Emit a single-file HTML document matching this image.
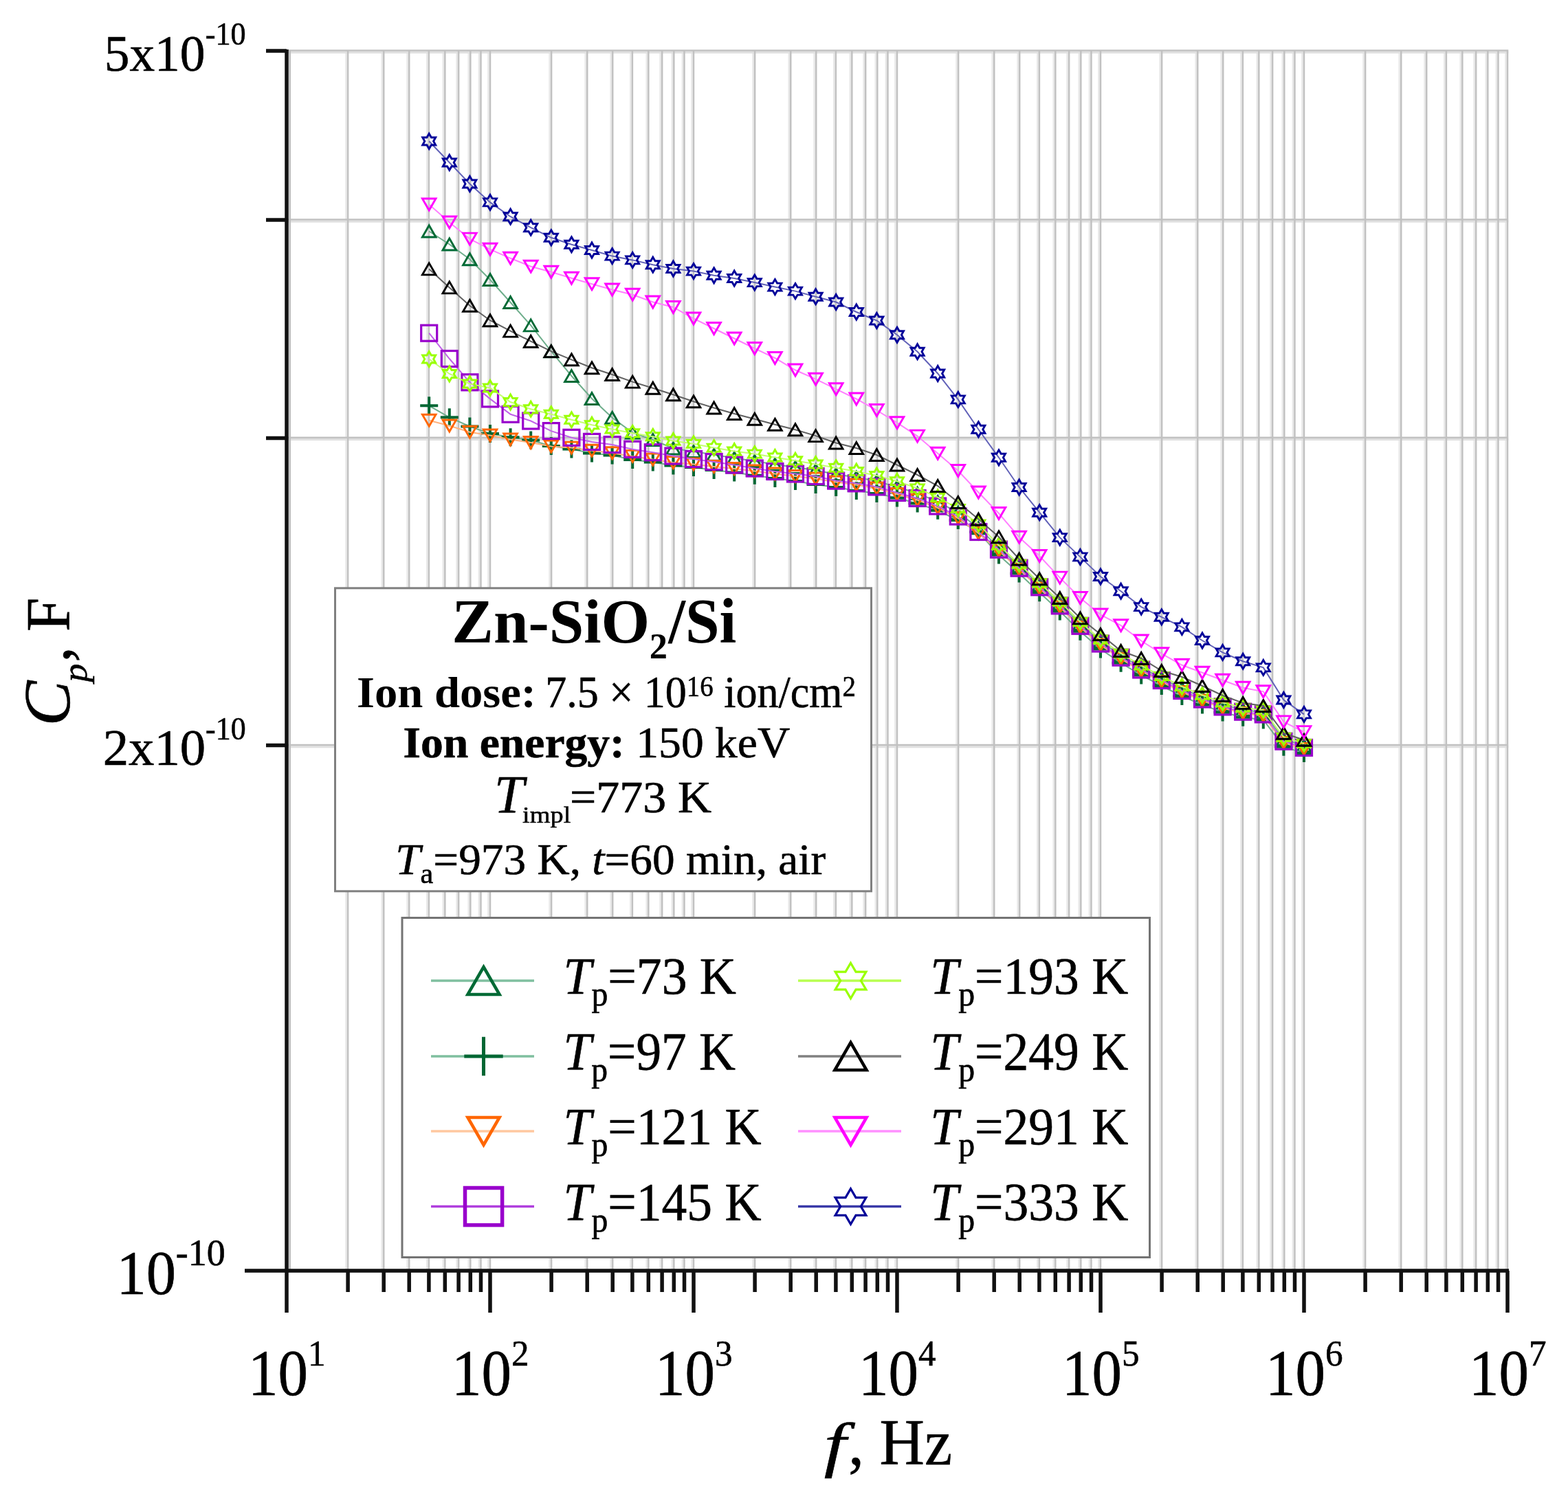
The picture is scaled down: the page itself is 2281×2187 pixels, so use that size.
<!DOCTYPE html>
<html><head><meta charset="utf-8"><title>Cp vs f</title>
<style>html,body{margin:0;padding:0;background:#fff;}svg{display:block;}</style>
</head><body>
<svg width="2281" height="2187" viewBox="0 0 2281 2187">
<rect x="0" y="0" width="2281" height="2187" fill="#fff"/>
<path d="M503.60 73.0V1849.0 M555.73 73.0V1849.0 M592.71 73.0V1849.0 M621.40 73.0V1849.0 M644.83 73.0V1849.0 M664.65 73.0V1849.0 M681.81 73.0V1849.0 M696.96 73.0V1849.0 M710.50 73.0V1849.0 M799.60 73.0V1849.0 M851.73 73.0V1849.0 M888.71 73.0V1849.0 M917.40 73.0V1849.0 M940.83 73.0V1849.0 M960.65 73.0V1849.0 M977.81 73.0V1849.0 M992.96 73.0V1849.0 M1006.50 73.0V1849.0 M1095.60 73.0V1849.0 M1147.73 73.0V1849.0 M1184.71 73.0V1849.0 M1213.40 73.0V1849.0 M1236.83 73.0V1849.0 M1256.65 73.0V1849.0 M1273.81 73.0V1849.0 M1288.96 73.0V1849.0 M1302.50 73.0V1849.0 M1391.60 73.0V1849.0 M1443.73 73.0V1849.0 M1480.71 73.0V1849.0 M1509.40 73.0V1849.0 M1532.83 73.0V1849.0 M1552.65 73.0V1849.0 M1569.81 73.0V1849.0 M1584.96 73.0V1849.0 M1598.50 73.0V1849.0 M1687.60 73.0V1849.0 M1739.73 73.0V1849.0 M1776.71 73.0V1849.0 M1805.40 73.0V1849.0 M1828.83 73.0V1849.0 M1848.65 73.0V1849.0 M1865.81 73.0V1849.0 M1880.96 73.0V1849.0 M1894.50 73.0V1849.0 M1983.60 73.0V1849.0 M2035.73 73.0V1849.0 M2072.71 73.0V1849.0 M2101.40 73.0V1849.0 M2124.83 73.0V1849.0 M2144.65 73.0V1849.0 M2161.81 73.0V1849.0 M2176.96 73.0V1849.0 M2190.50 73.0V1849.0" stroke="#e8e8e8" stroke-width="2.6" fill="none"/>
<path d="M417.0 1086.75H2194.3 M417.0 639.57H2194.3 M417.0 322.30H2194.3 M417.0 76.20H2194.3" stroke="#e0e0e0" stroke-width="3" fill="none"/>
<path d="M506.10 72.8V1849.0 M558.23 72.8V1849.0 M595.21 72.8V1849.0 M623.90 72.8V1849.0 M647.33 72.8V1849.0 M667.15 72.8V1849.0 M684.31 72.8V1849.0 M699.46 72.8V1849.0 M713.00 72.8V1849.0 M802.10 72.8V1849.0 M854.23 72.8V1849.0 M891.21 72.8V1849.0 M919.90 72.8V1849.0 M943.33 72.8V1849.0 M963.15 72.8V1849.0 M980.31 72.8V1849.0 M995.46 72.8V1849.0 M1009.00 72.8V1849.0 M1098.10 72.8V1849.0 M1150.23 72.8V1849.0 M1187.21 72.8V1849.0 M1215.90 72.8V1849.0 M1239.33 72.8V1849.0 M1259.15 72.8V1849.0 M1276.31 72.8V1849.0 M1291.46 72.8V1849.0 M1305.00 72.8V1849.0 M1394.10 72.8V1849.0 M1446.23 72.8V1849.0 M1483.21 72.8V1849.0 M1511.90 72.8V1849.0 M1535.33 72.8V1849.0 M1555.15 72.8V1849.0 M1572.31 72.8V1849.0 M1587.46 72.8V1849.0 M1601.00 72.8V1849.0 M1690.10 72.8V1849.0 M1742.23 72.8V1849.0 M1779.21 72.8V1849.0 M1807.90 72.8V1849.0 M1831.33 72.8V1849.0 M1851.15 72.8V1849.0 M1868.31 72.8V1849.0 M1883.46 72.8V1849.0 M1897.00 72.8V1849.0 M1986.10 72.8V1849.0 M2038.23 72.8V1849.0 M2075.21 72.8V1849.0 M2103.90 72.8V1849.0 M2127.33 72.8V1849.0 M2147.15 72.8V1849.0 M2164.31 72.8V1849.0 M2179.46 72.8V1849.0 M2193.00 72.8V1849.0 M417.0 1084.05H2194.3 M417.0 636.87H2194.3 M417.0 319.60H2194.3 M417.0 73.50H2194.3" stroke="#c1c1c1" stroke-width="2.5" fill="none"/>
<path d="M421.6 74.0V1849.0" stroke="#c0c0c0" stroke-width="2.8" fill="none"/>
<polyline points="624.2,336.5 653.8,355.5 683.4,377.2 713.0,407.0 742.6,440.0 772.2,473.4 801.8,511.2 831.4,547.0 861.0,580.0 890.6,607.8 920.2,629.5 949.8,640.0 979.4,652.5 1009.0,656.9 1038.6,661.8 1068.2,666.5 1097.8,671.0 1127.4,675.8 1157.0,679.9 1186.6,684.2 1216.2,690.2 1245.8,694.6 1275.4,700.2 1305.0,708.6 1334.6,717.7 1364.2,730.1 1393.8,745.8 1423.4,768.2 1453.0,796.6 1482.6,823.6 1512.2,851.3 1541.8,878.4 1571.4,907.8 1601.0,933.5 1630.6,953.7 1660.2,971.5 1689.8,987.0 1719.4,1002.0 1749.0,1014.5 1778.6,1025.4 1808.2,1032.7 1837.8,1036.4 1867.4,1075.7 1897.0,1084.9" fill="none" stroke="#6fae8c" stroke-width="2"/>
<path d="M624.2 328.0L634.0 345.0L614.4 345.0Z" fill="none" stroke="#006a35" stroke-width="2.9" stroke-linejoin="miter"/>
<path d="M653.8 347.0L663.6 364.0L644.0 364.0Z" fill="none" stroke="#006a35" stroke-width="2.9" stroke-linejoin="miter"/>
<path d="M683.4 368.7L693.2 385.7L673.6 385.7Z" fill="none" stroke="#006a35" stroke-width="2.9" stroke-linejoin="miter"/>
<path d="M713.0 398.5L722.8 415.5L703.2 415.5Z" fill="none" stroke="#006a35" stroke-width="2.9" stroke-linejoin="miter"/>
<path d="M742.6 431.5L752.4 448.5L732.8 448.5Z" fill="none" stroke="#006a35" stroke-width="2.9" stroke-linejoin="miter"/>
<path d="M772.2 464.9L782.0 481.9L762.4 481.9Z" fill="none" stroke="#006a35" stroke-width="2.9" stroke-linejoin="miter"/>
<path d="M801.8 502.7L811.6 519.7L792.0 519.7Z" fill="none" stroke="#006a35" stroke-width="2.9" stroke-linejoin="miter"/>
<path d="M831.4 538.5L841.2 555.5L821.6 555.5Z" fill="none" stroke="#006a35" stroke-width="2.9" stroke-linejoin="miter"/>
<path d="M861.0 571.5L870.8 588.5L851.2 588.5Z" fill="none" stroke="#006a35" stroke-width="2.9" stroke-linejoin="miter"/>
<path d="M890.6 599.3L900.4 616.3L880.8 616.3Z" fill="none" stroke="#006a35" stroke-width="2.9" stroke-linejoin="miter"/>
<path d="M920.2 621.0L930.0 638.0L910.4 638.0Z" fill="none" stroke="#006a35" stroke-width="2.9" stroke-linejoin="miter"/>
<path d="M949.8 631.5L959.6 648.5L940.0 648.5Z" fill="none" stroke="#006a35" stroke-width="2.9" stroke-linejoin="miter"/>
<path d="M979.4 644.0L989.2 661.0L969.6 661.0Z" fill="none" stroke="#006a35" stroke-width="2.9" stroke-linejoin="miter"/>
<path d="M1009.0 648.4L1018.8 665.4L999.2 665.4Z" fill="none" stroke="#006a35" stroke-width="2.9" stroke-linejoin="miter"/>
<path d="M1038.6 653.3L1048.4 670.3L1028.8 670.3Z" fill="none" stroke="#006a35" stroke-width="2.9" stroke-linejoin="miter"/>
<path d="M1068.2 658.0L1078.0 675.0L1058.4 675.0Z" fill="none" stroke="#006a35" stroke-width="2.9" stroke-linejoin="miter"/>
<path d="M1097.8 662.5L1107.6 679.5L1088.0 679.5Z" fill="none" stroke="#006a35" stroke-width="2.9" stroke-linejoin="miter"/>
<path d="M1127.4 667.2L1137.2 684.2L1117.6 684.2Z" fill="none" stroke="#006a35" stroke-width="2.9" stroke-linejoin="miter"/>
<path d="M1157.0 671.4L1166.8 688.4L1147.2 688.4Z" fill="none" stroke="#006a35" stroke-width="2.9" stroke-linejoin="miter"/>
<path d="M1186.6 675.8L1196.4 692.8L1176.8 692.8Z" fill="none" stroke="#006a35" stroke-width="2.9" stroke-linejoin="miter"/>
<path d="M1216.2 681.7L1226.0 698.7L1206.4 698.7Z" fill="none" stroke="#006a35" stroke-width="2.9" stroke-linejoin="miter"/>
<path d="M1245.8 686.1L1255.6 703.1L1236.0 703.1Z" fill="none" stroke="#006a35" stroke-width="2.9" stroke-linejoin="miter"/>
<path d="M1275.4 691.7L1285.2 708.7L1265.6 708.7Z" fill="none" stroke="#006a35" stroke-width="2.9" stroke-linejoin="miter"/>
<path d="M1305.0 700.1L1314.8 717.1L1295.2 717.1Z" fill="none" stroke="#006a35" stroke-width="2.9" stroke-linejoin="miter"/>
<path d="M1334.6 709.2L1344.4 726.2L1324.8 726.2Z" fill="none" stroke="#006a35" stroke-width="2.9" stroke-linejoin="miter"/>
<path d="M1364.2 721.6L1374.0 738.6L1354.4 738.6Z" fill="none" stroke="#006a35" stroke-width="2.9" stroke-linejoin="miter"/>
<path d="M1393.8 737.2L1403.6 754.2L1384.0 754.2Z" fill="none" stroke="#006a35" stroke-width="2.9" stroke-linejoin="miter"/>
<path d="M1423.4 759.7L1433.2 776.7L1413.6 776.7Z" fill="none" stroke="#006a35" stroke-width="2.9" stroke-linejoin="miter"/>
<path d="M1453.0 788.1L1462.8 805.1L1443.2 805.1Z" fill="none" stroke="#006a35" stroke-width="2.9" stroke-linejoin="miter"/>
<path d="M1482.6 815.1L1492.4 832.1L1472.8 832.1Z" fill="none" stroke="#006a35" stroke-width="2.9" stroke-linejoin="miter"/>
<path d="M1512.2 842.8L1522.0 859.8L1502.4 859.8Z" fill="none" stroke="#006a35" stroke-width="2.9" stroke-linejoin="miter"/>
<path d="M1541.8 869.9L1551.6 886.9L1532.0 886.9Z" fill="none" stroke="#006a35" stroke-width="2.9" stroke-linejoin="miter"/>
<path d="M1571.4 899.3L1581.2 916.3L1561.6 916.3Z" fill="none" stroke="#006a35" stroke-width="2.9" stroke-linejoin="miter"/>
<path d="M1601.0 925.0L1610.8 942.0L1591.2 942.0Z" fill="none" stroke="#006a35" stroke-width="2.9" stroke-linejoin="miter"/>
<path d="M1630.6 945.2L1640.4 962.2L1620.8 962.2Z" fill="none" stroke="#006a35" stroke-width="2.9" stroke-linejoin="miter"/>
<path d="M1660.2 963.0L1670.0 980.0L1650.4 980.0Z" fill="none" stroke="#006a35" stroke-width="2.9" stroke-linejoin="miter"/>
<path d="M1689.8 978.5L1699.6 995.5L1680.0 995.5Z" fill="none" stroke="#006a35" stroke-width="2.9" stroke-linejoin="miter"/>
<path d="M1719.4 993.5L1729.2 1010.5L1709.6 1010.5Z" fill="none" stroke="#006a35" stroke-width="2.9" stroke-linejoin="miter"/>
<path d="M1749.0 1006.0L1758.8 1023.0L1739.2 1023.0Z" fill="none" stroke="#006a35" stroke-width="2.9" stroke-linejoin="miter"/>
<path d="M1778.6 1016.9L1788.4 1033.9L1768.8 1033.9Z" fill="none" stroke="#006a35" stroke-width="2.9" stroke-linejoin="miter"/>
<path d="M1808.2 1024.2L1818.0 1041.2L1798.4 1041.2Z" fill="none" stroke="#006a35" stroke-width="2.9" stroke-linejoin="miter"/>
<path d="M1837.8 1027.9L1847.6 1044.9L1828.0 1044.9Z" fill="none" stroke="#006a35" stroke-width="2.9" stroke-linejoin="miter"/>
<path d="M1867.4 1067.2L1877.2 1084.2L1857.6 1084.2Z" fill="none" stroke="#006a35" stroke-width="2.9" stroke-linejoin="miter"/>
<path d="M1897.0 1076.4L1906.8 1093.4L1887.2 1093.4Z" fill="none" stroke="#006a35" stroke-width="2.9" stroke-linejoin="miter"/>
<polyline points="624.2,590.3 653.8,607.3 683.4,620.5 713.0,631.0 742.6,636.3 772.2,640.5 801.8,649.0 831.4,653.5 861.0,659.5 890.6,662.5 920.2,669.0 949.8,672.5 979.4,677.5 1009.0,680.0 1038.6,684.0 1068.2,687.5 1097.8,691.8 1127.4,695.9 1157.0,699.9 1186.6,705.0 1216.2,709.0 1245.8,714.0 1275.4,718.0 1305.0,724.5 1334.6,732.6 1364.2,742.8 1393.8,757.0 1423.4,774.0 1453.0,807.6 1482.6,834.6 1512.2,862.3 1541.8,889.4 1571.4,918.8 1601.0,944.5 1630.6,964.7 1660.2,982.5 1689.8,998.0 1719.4,1013.0 1749.0,1025.5 1778.6,1036.4 1808.2,1043.7 1837.8,1047.4 1867.4,1086.7 1897.0,1095.9" fill="none" stroke="#6fae8c" stroke-width="2"/>
<path d="M611.2 590.3H637.2M624.2 577.3V603.3" stroke="#006633" stroke-width="4.0" fill="none"/>
<path d="M640.8 607.3H666.8M653.8 594.3V620.3" stroke="#006633" stroke-width="4.0" fill="none"/>
<path d="M670.4 620.5H696.4M683.4 607.5V633.5" stroke="#006633" stroke-width="4.0" fill="none"/>
<path d="M700.0 631.0H726.0M713.0 618.0V644.0" stroke="#006633" stroke-width="4.0" fill="none"/>
<path d="M729.6 636.3H755.6M742.6 623.3V649.3" stroke="#006633" stroke-width="4.0" fill="none"/>
<path d="M759.2 640.5H785.2M772.2 627.5V653.5" stroke="#006633" stroke-width="4.0" fill="none"/>
<path d="M788.8 649.0H814.8M801.8 636.0V662.0" stroke="#006633" stroke-width="4.0" fill="none"/>
<path d="M818.4 653.5H844.4M831.4 640.5V666.5" stroke="#006633" stroke-width="4.0" fill="none"/>
<path d="M848.0 659.5H874.0M861.0 646.5V672.5" stroke="#006633" stroke-width="4.0" fill="none"/>
<path d="M877.6 662.5H903.6M890.6 649.5V675.5" stroke="#006633" stroke-width="4.0" fill="none"/>
<path d="M907.2 669.0H933.2M920.2 656.0V682.0" stroke="#006633" stroke-width="4.0" fill="none"/>
<path d="M936.8 672.5H962.8M949.8 659.5V685.5" stroke="#006633" stroke-width="4.0" fill="none"/>
<path d="M966.4 677.5H992.4M979.4 664.5V690.5" stroke="#006633" stroke-width="4.0" fill="none"/>
<path d="M996.0 680.0H1022.0M1009.0 667.0V693.0" stroke="#006633" stroke-width="4.0" fill="none"/>
<path d="M1025.6 684.0H1051.6M1038.6 671.0V697.0" stroke="#006633" stroke-width="4.0" fill="none"/>
<path d="M1055.2 687.5H1081.2M1068.2 674.5V700.5" stroke="#006633" stroke-width="4.0" fill="none"/>
<path d="M1084.8 691.8H1110.8M1097.8 678.8V704.8" stroke="#006633" stroke-width="4.0" fill="none"/>
<path d="M1114.4 695.9H1140.4M1127.4 682.9V708.9" stroke="#006633" stroke-width="4.0" fill="none"/>
<path d="M1144.0 699.9H1170.0M1157.0 686.9V712.9" stroke="#006633" stroke-width="4.0" fill="none"/>
<path d="M1173.6 705.0H1199.6M1186.6 692.0V718.0" stroke="#006633" stroke-width="4.0" fill="none"/>
<path d="M1203.2 709.0H1229.2M1216.2 696.0V722.0" stroke="#006633" stroke-width="4.0" fill="none"/>
<path d="M1232.8 714.0H1258.8M1245.8 701.0V727.0" stroke="#006633" stroke-width="4.0" fill="none"/>
<path d="M1262.4 718.0H1288.4M1275.4 705.0V731.0" stroke="#006633" stroke-width="4.0" fill="none"/>
<path d="M1292.0 724.5H1318.0M1305.0 711.5V737.5" stroke="#006633" stroke-width="4.0" fill="none"/>
<path d="M1321.6 732.6H1347.6M1334.6 719.6V745.6" stroke="#006633" stroke-width="4.0" fill="none"/>
<path d="M1351.2 742.8H1377.2M1364.2 729.8V755.8" stroke="#006633" stroke-width="4.0" fill="none"/>
<path d="M1380.8 757.0H1406.8M1393.8 744.0V770.0" stroke="#006633" stroke-width="4.0" fill="none"/>
<path d="M1410.4 774.0H1436.4M1423.4 761.0V787.0" stroke="#006633" stroke-width="4.0" fill="none"/>
<path d="M1440.0 807.6H1466.0M1453.0 794.6V820.6" stroke="#006633" stroke-width="4.0" fill="none"/>
<path d="M1469.6 834.6H1495.6M1482.6 821.6V847.6" stroke="#006633" stroke-width="4.0" fill="none"/>
<path d="M1499.2 862.3H1525.2M1512.2 849.3V875.3" stroke="#006633" stroke-width="4.0" fill="none"/>
<path d="M1528.8 889.4H1554.8M1541.8 876.4V902.4" stroke="#006633" stroke-width="4.0" fill="none"/>
<path d="M1558.4 918.8H1584.4M1571.4 905.8V931.8" stroke="#006633" stroke-width="4.0" fill="none"/>
<path d="M1588.0 944.5H1614.0M1601.0 931.5V957.5" stroke="#006633" stroke-width="4.0" fill="none"/>
<path d="M1617.6 964.7H1643.6M1630.6 951.7V977.7" stroke="#006633" stroke-width="4.0" fill="none"/>
<path d="M1647.2 982.5H1673.2M1660.2 969.5V995.5" stroke="#006633" stroke-width="4.0" fill="none"/>
<path d="M1676.8 998.0H1702.8M1689.8 985.0V1011.0" stroke="#006633" stroke-width="4.0" fill="none"/>
<path d="M1706.4 1013.0H1732.4M1719.4 1000.0V1026.0" stroke="#006633" stroke-width="4.0" fill="none"/>
<path d="M1736.0 1025.5H1762.0M1749.0 1012.5V1038.5" stroke="#006633" stroke-width="4.0" fill="none"/>
<path d="M1765.6 1036.4H1791.6M1778.6 1023.4V1049.4" stroke="#006633" stroke-width="4.0" fill="none"/>
<path d="M1795.2 1043.7H1821.2M1808.2 1030.7V1056.7" stroke="#006633" stroke-width="4.0" fill="none"/>
<path d="M1824.8 1047.4H1850.8M1837.8 1034.4V1060.4" stroke="#006633" stroke-width="4.0" fill="none"/>
<path d="M1854.4 1086.7H1880.4M1867.4 1073.7V1099.7" stroke="#006633" stroke-width="4.0" fill="none"/>
<path d="M1884.0 1095.9H1910.0M1897.0 1082.9V1108.9" stroke="#006633" stroke-width="4.0" fill="none"/>
<polyline points="624.2,611.7 653.8,619.5 683.4,628.7 713.0,633.5 742.6,639.5 772.2,644.0 801.8,649.5 831.4,651.6 861.0,655.7 890.6,659.2 920.2,663.9 949.8,668.6 979.4,673.0 1009.0,675.5 1038.6,679.0 1068.2,682.0 1097.8,685.5 1127.4,689.5 1157.0,693.0 1186.6,696.5 1216.2,701.5 1245.8,705.5 1275.4,710.5 1305.0,719.0 1334.6,727.5 1364.2,739.0 1393.8,754.0 1423.4,776.0 1453.0,801.6 1482.6,828.6 1512.2,856.3 1541.8,883.4 1571.4,912.8 1601.0,938.5 1630.6,958.7 1660.2,976.5 1689.8,992.0 1719.4,1007.0 1749.0,1019.5 1778.6,1030.4 1808.2,1037.7 1837.8,1041.4 1867.4,1080.7 1897.0,1089.9" fill="none" stroke="#ffb27f" stroke-width="2"/>
<path d="M624.2 620.2L634.0 603.2L614.4 603.2Z" fill="none" stroke="#ff6600" stroke-width="2.9" stroke-linejoin="miter"/>
<path d="M653.8 628.0L663.6 611.0L644.0 611.0Z" fill="none" stroke="#ff6600" stroke-width="2.9" stroke-linejoin="miter"/>
<path d="M683.4 637.2L693.2 620.2L673.6 620.2Z" fill="none" stroke="#ff6600" stroke-width="2.9" stroke-linejoin="miter"/>
<path d="M713.0 642.0L722.8 625.0L703.2 625.0Z" fill="none" stroke="#ff6600" stroke-width="2.9" stroke-linejoin="miter"/>
<path d="M742.6 648.0L752.4 631.0L732.8 631.0Z" fill="none" stroke="#ff6600" stroke-width="2.9" stroke-linejoin="miter"/>
<path d="M772.2 652.5L782.0 635.5L762.4 635.5Z" fill="none" stroke="#ff6600" stroke-width="2.9" stroke-linejoin="miter"/>
<path d="M801.8 658.0L811.6 641.0L792.0 641.0Z" fill="none" stroke="#ff6600" stroke-width="2.9" stroke-linejoin="miter"/>
<path d="M831.4 660.1L841.2 643.1L821.6 643.1Z" fill="none" stroke="#ff6600" stroke-width="2.9" stroke-linejoin="miter"/>
<path d="M861.0 664.2L870.8 647.2L851.2 647.2Z" fill="none" stroke="#ff6600" stroke-width="2.9" stroke-linejoin="miter"/>
<path d="M890.6 667.7L900.4 650.7L880.8 650.7Z" fill="none" stroke="#ff6600" stroke-width="2.9" stroke-linejoin="miter"/>
<path d="M920.2 672.4L930.0 655.4L910.4 655.4Z" fill="none" stroke="#ff6600" stroke-width="2.9" stroke-linejoin="miter"/>
<path d="M949.8 677.1L959.6 660.1L940.0 660.1Z" fill="none" stroke="#ff6600" stroke-width="2.9" stroke-linejoin="miter"/>
<path d="M979.4 681.5L989.2 664.5L969.6 664.5Z" fill="none" stroke="#ff6600" stroke-width="2.9" stroke-linejoin="miter"/>
<path d="M1009.0 684.0L1018.8 667.0L999.2 667.0Z" fill="none" stroke="#ff6600" stroke-width="2.9" stroke-linejoin="miter"/>
<path d="M1038.6 687.5L1048.4 670.5L1028.8 670.5Z" fill="none" stroke="#ff6600" stroke-width="2.9" stroke-linejoin="miter"/>
<path d="M1068.2 690.5L1078.0 673.5L1058.4 673.5Z" fill="none" stroke="#ff6600" stroke-width="2.9" stroke-linejoin="miter"/>
<path d="M1097.8 694.0L1107.6 677.0L1088.0 677.0Z" fill="none" stroke="#ff6600" stroke-width="2.9" stroke-linejoin="miter"/>
<path d="M1127.4 698.0L1137.2 681.0L1117.6 681.0Z" fill="none" stroke="#ff6600" stroke-width="2.9" stroke-linejoin="miter"/>
<path d="M1157.0 701.5L1166.8 684.5L1147.2 684.5Z" fill="none" stroke="#ff6600" stroke-width="2.9" stroke-linejoin="miter"/>
<path d="M1186.6 705.0L1196.4 688.0L1176.8 688.0Z" fill="none" stroke="#ff6600" stroke-width="2.9" stroke-linejoin="miter"/>
<path d="M1216.2 710.0L1226.0 693.0L1206.4 693.0Z" fill="none" stroke="#ff6600" stroke-width="2.9" stroke-linejoin="miter"/>
<path d="M1245.8 714.0L1255.6 697.0L1236.0 697.0Z" fill="none" stroke="#ff6600" stroke-width="2.9" stroke-linejoin="miter"/>
<path d="M1275.4 719.0L1285.2 702.0L1265.6 702.0Z" fill="none" stroke="#ff6600" stroke-width="2.9" stroke-linejoin="miter"/>
<path d="M1305.0 727.5L1314.8 710.5L1295.2 710.5Z" fill="none" stroke="#ff6600" stroke-width="2.9" stroke-linejoin="miter"/>
<path d="M1334.6 736.0L1344.4 719.0L1324.8 719.0Z" fill="none" stroke="#ff6600" stroke-width="2.9" stroke-linejoin="miter"/>
<path d="M1364.2 747.5L1374.0 730.5L1354.4 730.5Z" fill="none" stroke="#ff6600" stroke-width="2.9" stroke-linejoin="miter"/>
<path d="M1393.8 762.5L1403.6 745.5L1384.0 745.5Z" fill="none" stroke="#ff6600" stroke-width="2.9" stroke-linejoin="miter"/>
<path d="M1423.4 784.5L1433.2 767.5L1413.6 767.5Z" fill="none" stroke="#ff6600" stroke-width="2.9" stroke-linejoin="miter"/>
<path d="M1453.0 810.1L1462.8 793.1L1443.2 793.1Z" fill="none" stroke="#ff6600" stroke-width="2.9" stroke-linejoin="miter"/>
<path d="M1482.6 837.1L1492.4 820.1L1472.8 820.1Z" fill="none" stroke="#ff6600" stroke-width="2.9" stroke-linejoin="miter"/>
<path d="M1512.2 864.8L1522.0 847.8L1502.4 847.8Z" fill="none" stroke="#ff6600" stroke-width="2.9" stroke-linejoin="miter"/>
<path d="M1541.8 891.9L1551.6 874.9L1532.0 874.9Z" fill="none" stroke="#ff6600" stroke-width="2.9" stroke-linejoin="miter"/>
<path d="M1571.4 921.3L1581.2 904.3L1561.6 904.3Z" fill="none" stroke="#ff6600" stroke-width="2.9" stroke-linejoin="miter"/>
<path d="M1601.0 947.0L1610.8 930.0L1591.2 930.0Z" fill="none" stroke="#ff6600" stroke-width="2.9" stroke-linejoin="miter"/>
<path d="M1630.6 967.2L1640.4 950.2L1620.8 950.2Z" fill="none" stroke="#ff6600" stroke-width="2.9" stroke-linejoin="miter"/>
<path d="M1660.2 985.0L1670.0 968.0L1650.4 968.0Z" fill="none" stroke="#ff6600" stroke-width="2.9" stroke-linejoin="miter"/>
<path d="M1689.8 1000.5L1699.6 983.5L1680.0 983.5Z" fill="none" stroke="#ff6600" stroke-width="2.9" stroke-linejoin="miter"/>
<path d="M1719.4 1015.5L1729.2 998.5L1709.6 998.5Z" fill="none" stroke="#ff6600" stroke-width="2.9" stroke-linejoin="miter"/>
<path d="M1749.0 1028.0L1758.8 1011.0L1739.2 1011.0Z" fill="none" stroke="#ff6600" stroke-width="2.9" stroke-linejoin="miter"/>
<path d="M1778.6 1038.9L1788.4 1021.9L1768.8 1021.9Z" fill="none" stroke="#ff6600" stroke-width="2.9" stroke-linejoin="miter"/>
<path d="M1808.2 1046.2L1818.0 1029.2L1798.4 1029.2Z" fill="none" stroke="#ff6600" stroke-width="2.9" stroke-linejoin="miter"/>
<path d="M1837.8 1049.9L1847.6 1032.9L1828.0 1032.9Z" fill="none" stroke="#ff6600" stroke-width="2.9" stroke-linejoin="miter"/>
<path d="M1867.4 1089.2L1877.2 1072.2L1857.6 1072.2Z" fill="none" stroke="#ff6600" stroke-width="2.9" stroke-linejoin="miter"/>
<path d="M1897.0 1098.4L1906.8 1081.4L1887.2 1081.4Z" fill="none" stroke="#ff6600" stroke-width="2.9" stroke-linejoin="miter"/>
<polyline points="624.2,484.7 653.8,522.0 683.4,556.3 713.0,580.4 742.6,602.8 772.2,612.5 801.8,627.1 831.4,636.8 861.0,642.9 890.6,647.0 920.2,653.8 949.8,658.2 979.4,663.5 1009.0,668.0 1038.6,672.0 1068.2,676.5 1097.8,681.5 1127.4,686.0 1157.0,689.5 1186.6,693.0 1216.2,699.6 1245.8,703.3 1275.4,708.4 1305.0,717.0 1334.6,725.0 1364.2,736.5 1393.8,751.5 1423.4,774.0 1453.0,799.6 1482.6,826.6 1512.2,854.3 1541.8,881.4 1571.4,910.8 1601.0,936.5 1630.6,956.7 1660.2,974.5 1689.8,990.0 1719.4,1005.0 1749.0,1017.5 1778.6,1028.4 1808.2,1035.7 1837.8,1039.4 1867.4,1078.7 1897.0,1087.9" fill="none" stroke="#c060e8" stroke-width="2"/>
<rect x="612.7" y="473.2" width="23.0" height="23.0" fill="none" stroke="#9900cc" stroke-width="3.2"/>
<rect x="642.3" y="510.5" width="23.0" height="23.0" fill="none" stroke="#9900cc" stroke-width="3.2"/>
<rect x="671.9" y="544.8" width="23.0" height="23.0" fill="none" stroke="#9900cc" stroke-width="3.2"/>
<rect x="701.5" y="568.9" width="23.0" height="23.0" fill="none" stroke="#9900cc" stroke-width="3.2"/>
<rect x="731.1" y="591.3" width="23.0" height="23.0" fill="none" stroke="#9900cc" stroke-width="3.2"/>
<rect x="760.7" y="601.0" width="23.0" height="23.0" fill="none" stroke="#9900cc" stroke-width="3.2"/>
<rect x="790.3" y="615.6" width="23.0" height="23.0" fill="none" stroke="#9900cc" stroke-width="3.2"/>
<rect x="819.9" y="625.3" width="23.0" height="23.0" fill="none" stroke="#9900cc" stroke-width="3.2"/>
<rect x="849.5" y="631.4" width="23.0" height="23.0" fill="none" stroke="#9900cc" stroke-width="3.2"/>
<rect x="879.1" y="635.5" width="23.0" height="23.0" fill="none" stroke="#9900cc" stroke-width="3.2"/>
<rect x="908.7" y="642.3" width="23.0" height="23.0" fill="none" stroke="#9900cc" stroke-width="3.2"/>
<rect x="938.3" y="646.7" width="23.0" height="23.0" fill="none" stroke="#9900cc" stroke-width="3.2"/>
<rect x="967.9" y="652.0" width="23.0" height="23.0" fill="none" stroke="#9900cc" stroke-width="3.2"/>
<rect x="997.5" y="656.5" width="23.0" height="23.0" fill="none" stroke="#9900cc" stroke-width="3.2"/>
<rect x="1027.1" y="660.5" width="23.0" height="23.0" fill="none" stroke="#9900cc" stroke-width="3.2"/>
<rect x="1056.7" y="665.0" width="23.0" height="23.0" fill="none" stroke="#9900cc" stroke-width="3.2"/>
<rect x="1086.3" y="670.0" width="23.0" height="23.0" fill="none" stroke="#9900cc" stroke-width="3.2"/>
<rect x="1115.9" y="674.5" width="23.0" height="23.0" fill="none" stroke="#9900cc" stroke-width="3.2"/>
<rect x="1145.5" y="678.0" width="23.0" height="23.0" fill="none" stroke="#9900cc" stroke-width="3.2"/>
<rect x="1175.1" y="681.5" width="23.0" height="23.0" fill="none" stroke="#9900cc" stroke-width="3.2"/>
<rect x="1204.7" y="688.1" width="23.0" height="23.0" fill="none" stroke="#9900cc" stroke-width="3.2"/>
<rect x="1234.3" y="691.8" width="23.0" height="23.0" fill="none" stroke="#9900cc" stroke-width="3.2"/>
<rect x="1263.9" y="696.9" width="23.0" height="23.0" fill="none" stroke="#9900cc" stroke-width="3.2"/>
<rect x="1293.5" y="705.5" width="23.0" height="23.0" fill="none" stroke="#9900cc" stroke-width="3.2"/>
<rect x="1323.1" y="713.5" width="23.0" height="23.0" fill="none" stroke="#9900cc" stroke-width="3.2"/>
<rect x="1352.7" y="725.0" width="23.0" height="23.0" fill="none" stroke="#9900cc" stroke-width="3.2"/>
<rect x="1382.3" y="740.0" width="23.0" height="23.0" fill="none" stroke="#9900cc" stroke-width="3.2"/>
<rect x="1411.9" y="762.5" width="23.0" height="23.0" fill="none" stroke="#9900cc" stroke-width="3.2"/>
<rect x="1441.5" y="788.1" width="23.0" height="23.0" fill="none" stroke="#9900cc" stroke-width="3.2"/>
<rect x="1471.1" y="815.1" width="23.0" height="23.0" fill="none" stroke="#9900cc" stroke-width="3.2"/>
<rect x="1500.7" y="842.8" width="23.0" height="23.0" fill="none" stroke="#9900cc" stroke-width="3.2"/>
<rect x="1530.3" y="869.9" width="23.0" height="23.0" fill="none" stroke="#9900cc" stroke-width="3.2"/>
<rect x="1559.9" y="899.3" width="23.0" height="23.0" fill="none" stroke="#9900cc" stroke-width="3.2"/>
<rect x="1589.5" y="925.0" width="23.0" height="23.0" fill="none" stroke="#9900cc" stroke-width="3.2"/>
<rect x="1619.1" y="945.2" width="23.0" height="23.0" fill="none" stroke="#9900cc" stroke-width="3.2"/>
<rect x="1648.7" y="963.0" width="23.0" height="23.0" fill="none" stroke="#9900cc" stroke-width="3.2"/>
<rect x="1678.3" y="978.5" width="23.0" height="23.0" fill="none" stroke="#9900cc" stroke-width="3.2"/>
<rect x="1707.9" y="993.5" width="23.0" height="23.0" fill="none" stroke="#9900cc" stroke-width="3.2"/>
<rect x="1737.5" y="1006.0" width="23.0" height="23.0" fill="none" stroke="#9900cc" stroke-width="3.2"/>
<rect x="1767.1" y="1016.9" width="23.0" height="23.0" fill="none" stroke="#9900cc" stroke-width="3.2"/>
<rect x="1796.7" y="1024.2" width="23.0" height="23.0" fill="none" stroke="#9900cc" stroke-width="3.2"/>
<rect x="1826.3" y="1027.9" width="23.0" height="23.0" fill="none" stroke="#9900cc" stroke-width="3.2"/>
<rect x="1855.9" y="1067.2" width="23.0" height="23.0" fill="none" stroke="#9900cc" stroke-width="3.2"/>
<rect x="1885.5" y="1076.4" width="23.0" height="23.0" fill="none" stroke="#9900cc" stroke-width="3.2"/>
<polyline points="624.2,522.5 653.8,544.0 683.4,558.5 713.0,564.5 742.6,585.0 772.2,595.2 801.8,602.7 831.4,610.8 861.0,618.2 890.6,624.5 920.2,630.3 949.8,635.3 979.4,641.5 1009.0,645.8 1038.6,651.6 1068.2,656.5 1097.8,660.6 1127.4,665.5 1157.0,670.2 1186.6,675.5 1216.2,680.8 1245.8,686.0 1275.4,692.0 1305.0,700.2 1334.6,710.4 1364.2,723.7 1393.8,740.0 1423.4,762.4 1453.0,793.6 1482.6,820.6 1512.2,848.3 1541.8,875.4 1571.4,904.8 1601.0,930.5 1630.6,950.7 1660.2,968.5 1689.8,984.0 1719.4,999.0 1749.0,1011.5 1778.6,1022.4 1808.2,1029.7 1837.8,1033.4 1867.4,1072.7 1897.0,1081.9" fill="none" stroke="#c4ff70" stroke-width="2"/>
<path d="M624.2 511.5L627.4 517.0L633.7 517.0L630.6 522.5L633.7 528.0L627.4 528.0L624.2 533.5L621.0 528.0L614.7 528.0L617.8 522.5L614.7 517.0L621.0 517.0Z" fill="none" stroke="#99ff00" stroke-width="2.9" stroke-linejoin="miter"/>
<path d="M653.8 533.0L657.0 538.5L663.3 538.5L660.2 544.0L663.3 549.5L657.0 549.5L653.8 555.0L650.6 549.5L644.3 549.5L647.4 544.0L644.3 538.5L650.6 538.5Z" fill="none" stroke="#99ff00" stroke-width="2.9" stroke-linejoin="miter"/>
<path d="M683.4 547.5L686.6 553.0L692.9 553.0L689.8 558.5L692.9 564.0L686.6 564.0L683.4 569.5L680.2 564.0L673.9 564.0L677.0 558.5L673.9 553.0L680.2 553.0Z" fill="none" stroke="#99ff00" stroke-width="2.9" stroke-linejoin="miter"/>
<path d="M713.0 553.5L716.2 559.0L722.5 559.0L719.4 564.5L722.5 570.0L716.2 570.0L713.0 575.5L709.8 570.0L703.5 570.0L706.6 564.5L703.5 559.0L709.8 559.0Z" fill="none" stroke="#99ff00" stroke-width="2.9" stroke-linejoin="miter"/>
<path d="M742.6 574.0L745.8 579.5L752.1 579.5L749.0 585.0L752.1 590.5L745.8 590.5L742.6 596.0L739.4 590.5L733.1 590.5L736.2 585.0L733.1 579.5L739.4 579.5Z" fill="none" stroke="#99ff00" stroke-width="2.9" stroke-linejoin="miter"/>
<path d="M772.2 584.2L775.4 589.7L781.7 589.7L778.6 595.2L781.7 600.7L775.4 600.7L772.2 606.2L769.0 600.7L762.7 600.7L765.8 595.2L762.7 589.7L769.0 589.7Z" fill="none" stroke="#99ff00" stroke-width="2.9" stroke-linejoin="miter"/>
<path d="M801.8 591.7L805.0 597.2L811.3 597.2L808.2 602.7L811.3 608.2L805.0 608.2L801.8 613.7L798.6 608.2L792.3 608.2L795.4 602.7L792.3 597.2L798.6 597.2Z" fill="none" stroke="#99ff00" stroke-width="2.9" stroke-linejoin="miter"/>
<path d="M831.4 599.8L834.6 605.3L840.9 605.3L837.8 610.8L840.9 616.3L834.6 616.3L831.4 621.8L828.2 616.3L821.9 616.3L825.0 610.8L821.9 605.3L828.2 605.3Z" fill="none" stroke="#99ff00" stroke-width="2.9" stroke-linejoin="miter"/>
<path d="M861.0 607.2L864.2 612.7L870.5 612.7L867.4 618.2L870.5 623.7L864.2 623.7L861.0 629.2L857.8 623.7L851.5 623.7L854.6 618.2L851.5 612.7L857.8 612.7Z" fill="none" stroke="#99ff00" stroke-width="2.9" stroke-linejoin="miter"/>
<path d="M890.6 613.5L893.8 619.0L900.1 619.0L897.0 624.5L900.1 630.0L893.8 630.0L890.6 635.5L887.4 630.0L881.1 630.0L884.2 624.5L881.1 619.0L887.4 619.0Z" fill="none" stroke="#99ff00" stroke-width="2.9" stroke-linejoin="miter"/>
<path d="M920.2 619.3L923.4 624.8L929.7 624.8L926.6 630.3L929.7 635.8L923.4 635.8L920.2 641.3L917.0 635.8L910.7 635.8L913.8 630.3L910.7 624.8L917.0 624.8Z" fill="none" stroke="#99ff00" stroke-width="2.9" stroke-linejoin="miter"/>
<path d="M949.8 624.3L953.0 629.8L959.3 629.8L956.2 635.3L959.3 640.8L953.0 640.8L949.8 646.3L946.6 640.8L940.3 640.8L943.4 635.3L940.3 629.8L946.6 629.8Z" fill="none" stroke="#99ff00" stroke-width="2.9" stroke-linejoin="miter"/>
<path d="M979.4 630.5L982.6 636.0L988.9 636.0L985.8 641.5L988.9 647.0L982.6 647.0L979.4 652.5L976.2 647.0L969.9 647.0L973.0 641.5L969.9 636.0L976.2 636.0Z" fill="none" stroke="#99ff00" stroke-width="2.9" stroke-linejoin="miter"/>
<path d="M1009.0 634.8L1012.2 640.3L1018.5 640.3L1015.4 645.8L1018.5 651.3L1012.2 651.3L1009.0 656.8L1005.8 651.3L999.5 651.3L1002.6 645.8L999.5 640.3L1005.8 640.3Z" fill="none" stroke="#99ff00" stroke-width="2.9" stroke-linejoin="miter"/>
<path d="M1038.6 640.6L1041.8 646.1L1048.1 646.1L1045.0 651.6L1048.1 657.1L1041.8 657.1L1038.6 662.6L1035.4 657.1L1029.1 657.1L1032.2 651.6L1029.1 646.1L1035.4 646.1Z" fill="none" stroke="#99ff00" stroke-width="2.9" stroke-linejoin="miter"/>
<path d="M1068.2 645.5L1071.4 651.0L1077.7 651.0L1074.6 656.5L1077.7 662.0L1071.4 662.0L1068.2 667.5L1065.0 662.0L1058.7 662.0L1061.8 656.5L1058.7 651.0L1065.0 651.0Z" fill="none" stroke="#99ff00" stroke-width="2.9" stroke-linejoin="miter"/>
<path d="M1097.8 649.6L1101.0 655.1L1107.3 655.1L1104.2 660.6L1107.3 666.1L1101.0 666.1L1097.8 671.6L1094.6 666.1L1088.3 666.1L1091.4 660.6L1088.3 655.1L1094.6 655.1Z" fill="none" stroke="#99ff00" stroke-width="2.9" stroke-linejoin="miter"/>
<path d="M1127.4 654.5L1130.6 660.0L1136.9 660.0L1133.8 665.5L1136.9 671.0L1130.6 671.0L1127.4 676.5L1124.2 671.0L1117.9 671.0L1121.0 665.5L1117.9 660.0L1124.2 660.0Z" fill="none" stroke="#99ff00" stroke-width="2.9" stroke-linejoin="miter"/>
<path d="M1157.0 659.2L1160.2 664.7L1166.5 664.7L1163.4 670.2L1166.5 675.7L1160.2 675.7L1157.0 681.2L1153.8 675.7L1147.5 675.7L1150.6 670.2L1147.5 664.7L1153.8 664.7Z" fill="none" stroke="#99ff00" stroke-width="2.9" stroke-linejoin="miter"/>
<path d="M1186.6 664.5L1189.8 670.0L1196.1 670.0L1193.0 675.5L1196.1 681.0L1189.8 681.0L1186.6 686.5L1183.4 681.0L1177.1 681.0L1180.2 675.5L1177.1 670.0L1183.4 670.0Z" fill="none" stroke="#99ff00" stroke-width="2.9" stroke-linejoin="miter"/>
<path d="M1216.2 669.8L1219.4 675.3L1225.7 675.3L1222.6 680.8L1225.7 686.3L1219.4 686.3L1216.2 691.8L1213.0 686.3L1206.7 686.3L1209.8 680.8L1206.7 675.3L1213.0 675.3Z" fill="none" stroke="#99ff00" stroke-width="2.9" stroke-linejoin="miter"/>
<path d="M1245.8 675.0L1249.0 680.5L1255.3 680.5L1252.2 686.0L1255.3 691.5L1249.0 691.5L1245.8 697.0L1242.6 691.5L1236.3 691.5L1239.4 686.0L1236.3 680.5L1242.6 680.5Z" fill="none" stroke="#99ff00" stroke-width="2.9" stroke-linejoin="miter"/>
<path d="M1275.4 681.0L1278.6 686.5L1284.9 686.5L1281.8 692.0L1284.9 697.5L1278.6 697.5L1275.4 703.0L1272.2 697.5L1265.9 697.5L1269.0 692.0L1265.9 686.5L1272.2 686.5Z" fill="none" stroke="#99ff00" stroke-width="2.9" stroke-linejoin="miter"/>
<path d="M1305.0 689.2L1308.2 694.7L1314.5 694.7L1311.4 700.2L1314.5 705.7L1308.2 705.7L1305.0 711.2L1301.8 705.7L1295.5 705.7L1298.6 700.2L1295.5 694.7L1301.8 694.7Z" fill="none" stroke="#99ff00" stroke-width="2.9" stroke-linejoin="miter"/>
<path d="M1334.6 699.4L1337.8 704.9L1344.1 704.9L1341.0 710.4L1344.1 715.9L1337.8 715.9L1334.6 721.4L1331.4 715.9L1325.1 715.9L1328.2 710.4L1325.1 704.9L1331.4 704.9Z" fill="none" stroke="#99ff00" stroke-width="2.9" stroke-linejoin="miter"/>
<path d="M1364.2 712.7L1367.4 718.2L1373.7 718.2L1370.6 723.7L1373.7 729.2L1367.4 729.2L1364.2 734.7L1361.0 729.2L1354.7 729.2L1357.8 723.7L1354.7 718.2L1361.0 718.2Z" fill="none" stroke="#99ff00" stroke-width="2.9" stroke-linejoin="miter"/>
<path d="M1393.8 729.0L1397.0 734.5L1403.3 734.5L1400.2 740.0L1403.3 745.5L1397.0 745.5L1393.8 751.0L1390.6 745.5L1384.3 745.5L1387.4 740.0L1384.3 734.5L1390.6 734.5Z" fill="none" stroke="#99ff00" stroke-width="2.9" stroke-linejoin="miter"/>
<path d="M1423.4 751.4L1426.6 756.9L1432.9 756.9L1429.8 762.4L1432.9 767.9L1426.6 767.9L1423.4 773.4L1420.2 767.9L1413.9 767.9L1417.0 762.4L1413.9 756.9L1420.2 756.9Z" fill="none" stroke="#99ff00" stroke-width="2.9" stroke-linejoin="miter"/>
<path d="M1453.0 782.6L1456.2 788.1L1462.5 788.1L1459.4 793.6L1462.5 799.1L1456.2 799.1L1453.0 804.6L1449.8 799.1L1443.5 799.1L1446.6 793.6L1443.5 788.1L1449.8 788.1Z" fill="none" stroke="#99ff00" stroke-width="2.9" stroke-linejoin="miter"/>
<path d="M1482.6 809.6L1485.8 815.1L1492.1 815.1L1489.0 820.6L1492.1 826.1L1485.8 826.1L1482.6 831.6L1479.4 826.1L1473.1 826.1L1476.2 820.6L1473.1 815.1L1479.4 815.1Z" fill="none" stroke="#99ff00" stroke-width="2.9" stroke-linejoin="miter"/>
<path d="M1512.2 837.3L1515.4 842.8L1521.7 842.8L1518.6 848.3L1521.7 853.8L1515.4 853.8L1512.2 859.3L1509.0 853.8L1502.7 853.8L1505.8 848.3L1502.7 842.8L1509.0 842.8Z" fill="none" stroke="#99ff00" stroke-width="2.9" stroke-linejoin="miter"/>
<path d="M1541.8 864.4L1545.0 869.9L1551.3 869.9L1548.2 875.4L1551.3 880.9L1545.0 880.9L1541.8 886.4L1538.6 880.9L1532.3 880.9L1535.4 875.4L1532.3 869.9L1538.6 869.9Z" fill="none" stroke="#99ff00" stroke-width="2.9" stroke-linejoin="miter"/>
<path d="M1571.4 893.8L1574.6 899.3L1580.9 899.3L1577.8 904.8L1580.9 910.3L1574.6 910.3L1571.4 915.8L1568.2 910.3L1561.9 910.3L1565.0 904.8L1561.9 899.3L1568.2 899.3Z" fill="none" stroke="#99ff00" stroke-width="2.9" stroke-linejoin="miter"/>
<path d="M1601.0 919.5L1604.2 925.0L1610.5 925.0L1607.4 930.5L1610.5 936.0L1604.2 936.0L1601.0 941.5L1597.8 936.0L1591.5 936.0L1594.6 930.5L1591.5 925.0L1597.8 925.0Z" fill="none" stroke="#99ff00" stroke-width="2.9" stroke-linejoin="miter"/>
<path d="M1630.6 939.7L1633.8 945.2L1640.1 945.2L1637.0 950.7L1640.1 956.2L1633.8 956.2L1630.6 961.7L1627.4 956.2L1621.1 956.2L1624.2 950.7L1621.1 945.2L1627.4 945.2Z" fill="none" stroke="#99ff00" stroke-width="2.9" stroke-linejoin="miter"/>
<path d="M1660.2 957.5L1663.4 963.0L1669.7 963.0L1666.6 968.5L1669.7 974.0L1663.4 974.0L1660.2 979.5L1657.0 974.0L1650.7 974.0L1653.8 968.5L1650.7 963.0L1657.0 963.0Z" fill="none" stroke="#99ff00" stroke-width="2.9" stroke-linejoin="miter"/>
<path d="M1689.8 973.0L1693.0 978.5L1699.3 978.5L1696.2 984.0L1699.3 989.5L1693.0 989.5L1689.8 995.0L1686.6 989.5L1680.3 989.5L1683.4 984.0L1680.3 978.5L1686.6 978.5Z" fill="none" stroke="#99ff00" stroke-width="2.9" stroke-linejoin="miter"/>
<path d="M1719.4 988.0L1722.6 993.5L1728.9 993.5L1725.8 999.0L1728.9 1004.5L1722.6 1004.5L1719.4 1010.0L1716.2 1004.5L1709.9 1004.5L1713.0 999.0L1709.9 993.5L1716.2 993.5Z" fill="none" stroke="#99ff00" stroke-width="2.9" stroke-linejoin="miter"/>
<path d="M1749.0 1000.5L1752.2 1006.0L1758.5 1006.0L1755.4 1011.5L1758.5 1017.0L1752.2 1017.0L1749.0 1022.5L1745.8 1017.0L1739.5 1017.0L1742.6 1011.5L1739.5 1006.0L1745.8 1006.0Z" fill="none" stroke="#99ff00" stroke-width="2.9" stroke-linejoin="miter"/>
<path d="M1778.6 1011.4L1781.8 1016.9L1788.1 1016.9L1785.0 1022.4L1788.1 1027.9L1781.8 1027.9L1778.6 1033.4L1775.4 1027.9L1769.1 1027.9L1772.2 1022.4L1769.1 1016.9L1775.4 1016.9Z" fill="none" stroke="#99ff00" stroke-width="2.9" stroke-linejoin="miter"/>
<path d="M1808.2 1018.7L1811.4 1024.2L1817.7 1024.2L1814.6 1029.7L1817.7 1035.2L1811.4 1035.2L1808.2 1040.7L1805.0 1035.2L1798.7 1035.2L1801.8 1029.7L1798.7 1024.2L1805.0 1024.2Z" fill="none" stroke="#99ff00" stroke-width="2.9" stroke-linejoin="miter"/>
<path d="M1837.8 1022.4L1841.0 1027.9L1847.3 1027.9L1844.2 1033.4L1847.3 1038.9L1841.0 1038.9L1837.8 1044.4L1834.6 1038.9L1828.3 1038.9L1831.4 1033.4L1828.3 1027.9L1834.6 1027.9Z" fill="none" stroke="#99ff00" stroke-width="2.9" stroke-linejoin="miter"/>
<path d="M1867.4 1061.7L1870.6 1067.2L1876.9 1067.2L1873.8 1072.7L1876.9 1078.2L1870.6 1078.2L1867.4 1083.7L1864.2 1078.2L1857.9 1078.2L1861.0 1072.7L1857.9 1067.2L1864.2 1067.2Z" fill="none" stroke="#99ff00" stroke-width="2.9" stroke-linejoin="miter"/>
<path d="M1897.0 1070.9L1900.2 1076.4L1906.5 1076.4L1903.4 1081.9L1906.5 1087.4L1900.2 1087.4L1897.0 1092.9L1893.8 1087.4L1887.5 1087.4L1890.6 1081.9L1887.5 1076.4L1893.8 1076.4Z" fill="none" stroke="#99ff00" stroke-width="2.9" stroke-linejoin="miter"/>
<polyline points="624.2,391.4 653.8,418.4 683.4,444.8 713.0,466.2 742.6,481.6 772.2,496.7 801.8,511.1 831.4,523.3 861.0,535.3 890.6,545.0 920.2,555.6 949.8,564.7 979.4,574.2 1009.0,584.3 1038.6,593.5 1068.2,602.0 1097.8,609.8 1127.4,617.8 1157.0,625.2 1186.6,634.1 1216.2,644.5 1245.8,652.0 1275.4,662.0 1305.0,676.5 1334.6,691.0 1364.2,707.0 1393.8,730.9 1423.4,755.5 1453.0,781.3 1482.6,813.5 1512.2,842.2 1541.8,870.0 1571.4,899.4 1601.0,923.0 1630.6,947.0 1660.2,958.0 1689.8,976.0 1719.4,985.0 1749.0,998.0 1778.6,1012.0 1808.2,1022.9 1837.8,1027.0 1867.4,1066.8 1897.0,1076.8" fill="none" stroke="#606060" stroke-width="2"/>
<path d="M624.2 382.9L634.0 399.9L614.4 399.9Z" fill="none" stroke="#000000" stroke-width="2.9" stroke-linejoin="miter"/>
<path d="M653.8 409.9L663.6 426.9L644.0 426.9Z" fill="none" stroke="#000000" stroke-width="2.9" stroke-linejoin="miter"/>
<path d="M683.4 436.3L693.2 453.3L673.6 453.3Z" fill="none" stroke="#000000" stroke-width="2.9" stroke-linejoin="miter"/>
<path d="M713.0 457.7L722.8 474.7L703.2 474.7Z" fill="none" stroke="#000000" stroke-width="2.9" stroke-linejoin="miter"/>
<path d="M742.6 473.1L752.4 490.1L732.8 490.1Z" fill="none" stroke="#000000" stroke-width="2.9" stroke-linejoin="miter"/>
<path d="M772.2 488.2L782.0 505.2L762.4 505.2Z" fill="none" stroke="#000000" stroke-width="2.9" stroke-linejoin="miter"/>
<path d="M801.8 502.6L811.6 519.6L792.0 519.6Z" fill="none" stroke="#000000" stroke-width="2.9" stroke-linejoin="miter"/>
<path d="M831.4 514.8L841.2 531.8L821.6 531.8Z" fill="none" stroke="#000000" stroke-width="2.9" stroke-linejoin="miter"/>
<path d="M861.0 526.8L870.8 543.8L851.2 543.8Z" fill="none" stroke="#000000" stroke-width="2.9" stroke-linejoin="miter"/>
<path d="M890.6 536.5L900.4 553.5L880.8 553.5Z" fill="none" stroke="#000000" stroke-width="2.9" stroke-linejoin="miter"/>
<path d="M920.2 547.1L930.0 564.1L910.4 564.1Z" fill="none" stroke="#000000" stroke-width="2.9" stroke-linejoin="miter"/>
<path d="M949.8 556.2L959.6 573.2L940.0 573.2Z" fill="none" stroke="#000000" stroke-width="2.9" stroke-linejoin="miter"/>
<path d="M979.4 565.7L989.2 582.7L969.6 582.7Z" fill="none" stroke="#000000" stroke-width="2.9" stroke-linejoin="miter"/>
<path d="M1009.0 575.8L1018.8 592.8L999.2 592.8Z" fill="none" stroke="#000000" stroke-width="2.9" stroke-linejoin="miter"/>
<path d="M1038.6 585.0L1048.4 602.0L1028.8 602.0Z" fill="none" stroke="#000000" stroke-width="2.9" stroke-linejoin="miter"/>
<path d="M1068.2 593.5L1078.0 610.5L1058.4 610.5Z" fill="none" stroke="#000000" stroke-width="2.9" stroke-linejoin="miter"/>
<path d="M1097.8 601.3L1107.6 618.3L1088.0 618.3Z" fill="none" stroke="#000000" stroke-width="2.9" stroke-linejoin="miter"/>
<path d="M1127.4 609.3L1137.2 626.3L1117.6 626.3Z" fill="none" stroke="#000000" stroke-width="2.9" stroke-linejoin="miter"/>
<path d="M1157.0 616.7L1166.8 633.7L1147.2 633.7Z" fill="none" stroke="#000000" stroke-width="2.9" stroke-linejoin="miter"/>
<path d="M1186.6 625.6L1196.4 642.6L1176.8 642.6Z" fill="none" stroke="#000000" stroke-width="2.9" stroke-linejoin="miter"/>
<path d="M1216.2 636.0L1226.0 653.0L1206.4 653.0Z" fill="none" stroke="#000000" stroke-width="2.9" stroke-linejoin="miter"/>
<path d="M1245.8 643.5L1255.6 660.5L1236.0 660.5Z" fill="none" stroke="#000000" stroke-width="2.9" stroke-linejoin="miter"/>
<path d="M1275.4 653.5L1285.2 670.5L1265.6 670.5Z" fill="none" stroke="#000000" stroke-width="2.9" stroke-linejoin="miter"/>
<path d="M1305.0 668.0L1314.8 685.0L1295.2 685.0Z" fill="none" stroke="#000000" stroke-width="2.9" stroke-linejoin="miter"/>
<path d="M1334.6 682.5L1344.4 699.5L1324.8 699.5Z" fill="none" stroke="#000000" stroke-width="2.9" stroke-linejoin="miter"/>
<path d="M1364.2 698.5L1374.0 715.5L1354.4 715.5Z" fill="none" stroke="#000000" stroke-width="2.9" stroke-linejoin="miter"/>
<path d="M1393.8 722.4L1403.6 739.4L1384.0 739.4Z" fill="none" stroke="#000000" stroke-width="2.9" stroke-linejoin="miter"/>
<path d="M1423.4 747.0L1433.2 764.0L1413.6 764.0Z" fill="none" stroke="#000000" stroke-width="2.9" stroke-linejoin="miter"/>
<path d="M1453.0 772.8L1462.8 789.8L1443.2 789.8Z" fill="none" stroke="#000000" stroke-width="2.9" stroke-linejoin="miter"/>
<path d="M1482.6 805.0L1492.4 822.0L1472.8 822.0Z" fill="none" stroke="#000000" stroke-width="2.9" stroke-linejoin="miter"/>
<path d="M1512.2 833.7L1522.0 850.7L1502.4 850.7Z" fill="none" stroke="#000000" stroke-width="2.9" stroke-linejoin="miter"/>
<path d="M1541.8 861.5L1551.6 878.5L1532.0 878.5Z" fill="none" stroke="#000000" stroke-width="2.9" stroke-linejoin="miter"/>
<path d="M1571.4 890.9L1581.2 907.9L1561.6 907.9Z" fill="none" stroke="#000000" stroke-width="2.9" stroke-linejoin="miter"/>
<path d="M1601.0 914.5L1610.8 931.5L1591.2 931.5Z" fill="none" stroke="#000000" stroke-width="2.9" stroke-linejoin="miter"/>
<path d="M1630.6 938.5L1640.4 955.5L1620.8 955.5Z" fill="none" stroke="#000000" stroke-width="2.9" stroke-linejoin="miter"/>
<path d="M1660.2 949.5L1670.0 966.5L1650.4 966.5Z" fill="none" stroke="#000000" stroke-width="2.9" stroke-linejoin="miter"/>
<path d="M1689.8 967.5L1699.6 984.5L1680.0 984.5Z" fill="none" stroke="#000000" stroke-width="2.9" stroke-linejoin="miter"/>
<path d="M1719.4 976.5L1729.2 993.5L1709.6 993.5Z" fill="none" stroke="#000000" stroke-width="2.9" stroke-linejoin="miter"/>
<path d="M1749.0 989.5L1758.8 1006.5L1739.2 1006.5Z" fill="none" stroke="#000000" stroke-width="2.9" stroke-linejoin="miter"/>
<path d="M1778.6 1003.5L1788.4 1020.5L1768.8 1020.5Z" fill="none" stroke="#000000" stroke-width="2.9" stroke-linejoin="miter"/>
<path d="M1808.2 1014.4L1818.0 1031.4L1798.4 1031.4Z" fill="none" stroke="#000000" stroke-width="2.9" stroke-linejoin="miter"/>
<path d="M1837.8 1018.5L1847.6 1035.5L1828.0 1035.5Z" fill="none" stroke="#000000" stroke-width="2.9" stroke-linejoin="miter"/>
<path d="M1867.4 1058.3L1877.2 1075.3L1857.6 1075.3Z" fill="none" stroke="#000000" stroke-width="2.9" stroke-linejoin="miter"/>
<path d="M1897.0 1068.3L1906.8 1085.3L1887.2 1085.3Z" fill="none" stroke="#000000" stroke-width="2.9" stroke-linejoin="miter"/>
<polyline points="624.2,297.5 653.8,323.5 683.4,347.6 713.0,362.8 742.6,375.8 772.2,387.7 801.8,395.8 831.4,404.8 861.0,413.2 890.6,421.5 920.2,428.7 949.8,439.5 979.4,447.0 1009.0,463.5 1038.6,478.0 1068.2,492.5 1097.8,507.0 1127.4,521.0 1157.0,538.5 1186.6,551.7 1216.2,566.2 1245.8,580.5 1275.4,597.0 1305.0,615.2 1334.6,634.6 1364.2,659.8 1393.8,685.0 1423.4,716.5 1453.0,747.0 1482.6,781.7 1512.2,809.0 1541.8,840.6 1571.4,870.0 1601.0,894.5 1630.6,910.2 1660.2,932.5 1689.8,951.2 1719.4,967.8 1749.0,978.8 1778.6,989.8 1808.2,1000.8 1837.8,1006.3 1867.4,1050.4 1897.0,1065.1" fill="none" stroke="#ff80ff" stroke-width="2"/>
<path d="M624.2 306.0L634.0 289.0L614.4 289.0Z" fill="none" stroke="#ff00ff" stroke-width="2.9" stroke-linejoin="miter"/>
<path d="M653.8 332.0L663.6 315.0L644.0 315.0Z" fill="none" stroke="#ff00ff" stroke-width="2.9" stroke-linejoin="miter"/>
<path d="M683.4 356.1L693.2 339.1L673.6 339.1Z" fill="none" stroke="#ff00ff" stroke-width="2.9" stroke-linejoin="miter"/>
<path d="M713.0 371.3L722.8 354.3L703.2 354.3Z" fill="none" stroke="#ff00ff" stroke-width="2.9" stroke-linejoin="miter"/>
<path d="M742.6 384.3L752.4 367.3L732.8 367.3Z" fill="none" stroke="#ff00ff" stroke-width="2.9" stroke-linejoin="miter"/>
<path d="M772.2 396.2L782.0 379.2L762.4 379.2Z" fill="none" stroke="#ff00ff" stroke-width="2.9" stroke-linejoin="miter"/>
<path d="M801.8 404.3L811.6 387.3L792.0 387.3Z" fill="none" stroke="#ff00ff" stroke-width="2.9" stroke-linejoin="miter"/>
<path d="M831.4 413.3L841.2 396.3L821.6 396.3Z" fill="none" stroke="#ff00ff" stroke-width="2.9" stroke-linejoin="miter"/>
<path d="M861.0 421.7L870.8 404.7L851.2 404.7Z" fill="none" stroke="#ff00ff" stroke-width="2.9" stroke-linejoin="miter"/>
<path d="M890.6 430.0L900.4 413.0L880.8 413.0Z" fill="none" stroke="#ff00ff" stroke-width="2.9" stroke-linejoin="miter"/>
<path d="M920.2 437.2L930.0 420.2L910.4 420.2Z" fill="none" stroke="#ff00ff" stroke-width="2.9" stroke-linejoin="miter"/>
<path d="M949.8 448.0L959.6 431.0L940.0 431.0Z" fill="none" stroke="#ff00ff" stroke-width="2.9" stroke-linejoin="miter"/>
<path d="M979.4 455.5L989.2 438.5L969.6 438.5Z" fill="none" stroke="#ff00ff" stroke-width="2.9" stroke-linejoin="miter"/>
<path d="M1009.0 472.0L1018.8 455.0L999.2 455.0Z" fill="none" stroke="#ff00ff" stroke-width="2.9" stroke-linejoin="miter"/>
<path d="M1038.6 486.5L1048.4 469.5L1028.8 469.5Z" fill="none" stroke="#ff00ff" stroke-width="2.9" stroke-linejoin="miter"/>
<path d="M1068.2 501.0L1078.0 484.0L1058.4 484.0Z" fill="none" stroke="#ff00ff" stroke-width="2.9" stroke-linejoin="miter"/>
<path d="M1097.8 515.5L1107.6 498.5L1088.0 498.5Z" fill="none" stroke="#ff00ff" stroke-width="2.9" stroke-linejoin="miter"/>
<path d="M1127.4 529.5L1137.2 512.5L1117.6 512.5Z" fill="none" stroke="#ff00ff" stroke-width="2.9" stroke-linejoin="miter"/>
<path d="M1157.0 547.0L1166.8 530.0L1147.2 530.0Z" fill="none" stroke="#ff00ff" stroke-width="2.9" stroke-linejoin="miter"/>
<path d="M1186.6 560.2L1196.4 543.2L1176.8 543.2Z" fill="none" stroke="#ff00ff" stroke-width="2.9" stroke-linejoin="miter"/>
<path d="M1216.2 574.7L1226.0 557.7L1206.4 557.7Z" fill="none" stroke="#ff00ff" stroke-width="2.9" stroke-linejoin="miter"/>
<path d="M1245.8 589.0L1255.6 572.0L1236.0 572.0Z" fill="none" stroke="#ff00ff" stroke-width="2.9" stroke-linejoin="miter"/>
<path d="M1275.4 605.5L1285.2 588.5L1265.6 588.5Z" fill="none" stroke="#ff00ff" stroke-width="2.9" stroke-linejoin="miter"/>
<path d="M1305.0 623.7L1314.8 606.7L1295.2 606.7Z" fill="none" stroke="#ff00ff" stroke-width="2.9" stroke-linejoin="miter"/>
<path d="M1334.6 643.1L1344.4 626.1L1324.8 626.1Z" fill="none" stroke="#ff00ff" stroke-width="2.9" stroke-linejoin="miter"/>
<path d="M1364.2 668.3L1374.0 651.3L1354.4 651.3Z" fill="none" stroke="#ff00ff" stroke-width="2.9" stroke-linejoin="miter"/>
<path d="M1393.8 693.5L1403.6 676.5L1384.0 676.5Z" fill="none" stroke="#ff00ff" stroke-width="2.9" stroke-linejoin="miter"/>
<path d="M1423.4 725.0L1433.2 708.0L1413.6 708.0Z" fill="none" stroke="#ff00ff" stroke-width="2.9" stroke-linejoin="miter"/>
<path d="M1453.0 755.5L1462.8 738.5L1443.2 738.5Z" fill="none" stroke="#ff00ff" stroke-width="2.9" stroke-linejoin="miter"/>
<path d="M1482.6 790.2L1492.4 773.2L1472.8 773.2Z" fill="none" stroke="#ff00ff" stroke-width="2.9" stroke-linejoin="miter"/>
<path d="M1512.2 817.5L1522.0 800.5L1502.4 800.5Z" fill="none" stroke="#ff00ff" stroke-width="2.9" stroke-linejoin="miter"/>
<path d="M1541.8 849.1L1551.6 832.1L1532.0 832.1Z" fill="none" stroke="#ff00ff" stroke-width="2.9" stroke-linejoin="miter"/>
<path d="M1571.4 878.5L1581.2 861.5L1561.6 861.5Z" fill="none" stroke="#ff00ff" stroke-width="2.9" stroke-linejoin="miter"/>
<path d="M1601.0 903.0L1610.8 886.0L1591.2 886.0Z" fill="none" stroke="#ff00ff" stroke-width="2.9" stroke-linejoin="miter"/>
<path d="M1630.6 918.7L1640.4 901.7L1620.8 901.7Z" fill="none" stroke="#ff00ff" stroke-width="2.9" stroke-linejoin="miter"/>
<path d="M1660.2 941.0L1670.0 924.0L1650.4 924.0Z" fill="none" stroke="#ff00ff" stroke-width="2.9" stroke-linejoin="miter"/>
<path d="M1689.8 959.7L1699.6 942.7L1680.0 942.7Z" fill="none" stroke="#ff00ff" stroke-width="2.9" stroke-linejoin="miter"/>
<path d="M1719.4 976.3L1729.2 959.3L1709.6 959.3Z" fill="none" stroke="#ff00ff" stroke-width="2.9" stroke-linejoin="miter"/>
<path d="M1749.0 987.3L1758.8 970.3L1739.2 970.3Z" fill="none" stroke="#ff00ff" stroke-width="2.9" stroke-linejoin="miter"/>
<path d="M1778.6 998.3L1788.4 981.3L1768.8 981.3Z" fill="none" stroke="#ff00ff" stroke-width="2.9" stroke-linejoin="miter"/>
<path d="M1808.2 1009.3L1818.0 992.3L1798.4 992.3Z" fill="none" stroke="#ff00ff" stroke-width="2.9" stroke-linejoin="miter"/>
<path d="M1837.8 1014.8L1847.6 997.8L1828.0 997.8Z" fill="none" stroke="#ff00ff" stroke-width="2.9" stroke-linejoin="miter"/>
<path d="M1867.4 1058.9L1877.2 1041.9L1857.6 1041.9Z" fill="none" stroke="#ff00ff" stroke-width="2.9" stroke-linejoin="miter"/>
<path d="M1897.0 1073.6L1906.8 1056.6L1887.2 1056.6Z" fill="none" stroke="#ff00ff" stroke-width="2.9" stroke-linejoin="miter"/>
<polyline points="624.2,205.5 653.8,236.5 683.4,267.5 713.0,294.4 742.6,315.2 772.2,331.2 801.8,345.8 831.4,355.8 861.0,364.0 890.6,372.6 920.2,378.4 949.8,385.2 979.4,391.0 1009.0,394.6 1038.6,400.8 1068.2,405.0 1097.8,411.1 1127.4,417.6 1157.0,423.6 1186.6,431.7 1216.2,439.5 1245.8,454.0 1275.4,466.5 1305.0,487.3 1334.6,511.7 1364.2,543.5 1393.8,581.4 1423.4,624.8 1453.0,665.8 1482.6,709.0 1512.2,745.7 1541.8,782.1 1571.4,810.4 1601.0,839.0 1630.6,860.2 1660.2,883.1 1689.8,897.8 1719.4,912.4 1749.0,932.0 1778.6,949.4 1808.2,962.2 1837.8,971.4 1867.4,1018.5 1897.0,1039.4" fill="none" stroke="#6262b8" stroke-width="2"/>
<path d="M624.2 194.5L627.4 200.0L633.7 200.0L630.6 205.5L633.7 211.0L627.4 211.0L624.2 216.5L621.0 211.0L614.7 211.0L617.8 205.5L614.7 200.0L621.0 200.0Z" fill="none" stroke="#000099" stroke-width="2.9" stroke-linejoin="miter"/>
<path d="M653.8 225.5L657.0 231.0L663.3 231.0L660.2 236.5L663.3 242.0L657.0 242.0L653.8 247.5L650.6 242.0L644.3 242.0L647.4 236.5L644.3 231.0L650.6 231.0Z" fill="none" stroke="#000099" stroke-width="2.9" stroke-linejoin="miter"/>
<path d="M683.4 256.5L686.6 262.0L692.9 262.0L689.8 267.5L692.9 273.0L686.6 273.0L683.4 278.5L680.2 273.0L673.9 273.0L677.0 267.5L673.9 262.0L680.2 262.0Z" fill="none" stroke="#000099" stroke-width="2.9" stroke-linejoin="miter"/>
<path d="M713.0 283.4L716.2 288.9L722.5 288.9L719.4 294.4L722.5 299.9L716.2 299.9L713.0 305.4L709.8 299.9L703.5 299.9L706.6 294.4L703.5 288.9L709.8 288.9Z" fill="none" stroke="#000099" stroke-width="2.9" stroke-linejoin="miter"/>
<path d="M742.6 304.2L745.8 309.7L752.1 309.7L749.0 315.2L752.1 320.7L745.8 320.7L742.6 326.2L739.4 320.7L733.1 320.7L736.2 315.2L733.1 309.7L739.4 309.7Z" fill="none" stroke="#000099" stroke-width="2.9" stroke-linejoin="miter"/>
<path d="M772.2 320.2L775.4 325.7L781.7 325.7L778.6 331.2L781.7 336.7L775.4 336.7L772.2 342.2L769.0 336.7L762.7 336.7L765.8 331.2L762.7 325.7L769.0 325.7Z" fill="none" stroke="#000099" stroke-width="2.9" stroke-linejoin="miter"/>
<path d="M801.8 334.8L805.0 340.3L811.3 340.3L808.2 345.8L811.3 351.3L805.0 351.3L801.8 356.8L798.6 351.3L792.3 351.3L795.4 345.8L792.3 340.3L798.6 340.3Z" fill="none" stroke="#000099" stroke-width="2.9" stroke-linejoin="miter"/>
<path d="M831.4 344.8L834.6 350.3L840.9 350.3L837.8 355.8L840.9 361.3L834.6 361.3L831.4 366.8L828.2 361.3L821.9 361.3L825.0 355.8L821.9 350.3L828.2 350.3Z" fill="none" stroke="#000099" stroke-width="2.9" stroke-linejoin="miter"/>
<path d="M861.0 353.0L864.2 358.5L870.5 358.5L867.4 364.0L870.5 369.5L864.2 369.5L861.0 375.0L857.8 369.5L851.5 369.5L854.6 364.0L851.5 358.5L857.8 358.5Z" fill="none" stroke="#000099" stroke-width="2.9" stroke-linejoin="miter"/>
<path d="M890.6 361.6L893.8 367.1L900.1 367.1L897.0 372.6L900.1 378.1L893.8 378.1L890.6 383.6L887.4 378.1L881.1 378.1L884.2 372.6L881.1 367.1L887.4 367.1Z" fill="none" stroke="#000099" stroke-width="2.9" stroke-linejoin="miter"/>
<path d="M920.2 367.4L923.4 372.9L929.7 372.9L926.6 378.4L929.7 383.9L923.4 383.9L920.2 389.4L917.0 383.9L910.7 383.9L913.8 378.4L910.7 372.9L917.0 372.9Z" fill="none" stroke="#000099" stroke-width="2.9" stroke-linejoin="miter"/>
<path d="M949.8 374.2L953.0 379.7L959.3 379.7L956.2 385.2L959.3 390.7L953.0 390.7L949.8 396.2L946.6 390.7L940.3 390.7L943.4 385.2L940.3 379.7L946.6 379.7Z" fill="none" stroke="#000099" stroke-width="2.9" stroke-linejoin="miter"/>
<path d="M979.4 380.0L982.6 385.5L988.9 385.5L985.8 391.0L988.9 396.5L982.6 396.5L979.4 402.0L976.2 396.5L969.9 396.5L973.0 391.0L969.9 385.5L976.2 385.5Z" fill="none" stroke="#000099" stroke-width="2.9" stroke-linejoin="miter"/>
<path d="M1009.0 383.6L1012.2 389.1L1018.5 389.1L1015.4 394.6L1018.5 400.1L1012.2 400.1L1009.0 405.6L1005.8 400.1L999.5 400.1L1002.6 394.6L999.5 389.1L1005.8 389.1Z" fill="none" stroke="#000099" stroke-width="2.9" stroke-linejoin="miter"/>
<path d="M1038.6 389.8L1041.8 395.3L1048.1 395.3L1045.0 400.8L1048.1 406.3L1041.8 406.3L1038.6 411.8L1035.4 406.3L1029.1 406.3L1032.2 400.8L1029.1 395.3L1035.4 395.3Z" fill="none" stroke="#000099" stroke-width="2.9" stroke-linejoin="miter"/>
<path d="M1068.2 394.0L1071.4 399.5L1077.7 399.5L1074.6 405.0L1077.7 410.5L1071.4 410.5L1068.2 416.0L1065.0 410.5L1058.7 410.5L1061.8 405.0L1058.7 399.5L1065.0 399.5Z" fill="none" stroke="#000099" stroke-width="2.9" stroke-linejoin="miter"/>
<path d="M1097.8 400.1L1101.0 405.6L1107.3 405.6L1104.2 411.1L1107.3 416.6L1101.0 416.6L1097.8 422.1L1094.6 416.6L1088.3 416.6L1091.4 411.1L1088.3 405.6L1094.6 405.6Z" fill="none" stroke="#000099" stroke-width="2.9" stroke-linejoin="miter"/>
<path d="M1127.4 406.6L1130.6 412.1L1136.9 412.1L1133.8 417.6L1136.9 423.1L1130.6 423.1L1127.4 428.6L1124.2 423.1L1117.9 423.1L1121.0 417.6L1117.9 412.1L1124.2 412.1Z" fill="none" stroke="#000099" stroke-width="2.9" stroke-linejoin="miter"/>
<path d="M1157.0 412.6L1160.2 418.1L1166.5 418.1L1163.4 423.6L1166.5 429.1L1160.2 429.1L1157.0 434.6L1153.8 429.1L1147.5 429.1L1150.6 423.6L1147.5 418.1L1153.8 418.1Z" fill="none" stroke="#000099" stroke-width="2.9" stroke-linejoin="miter"/>
<path d="M1186.6 420.7L1189.8 426.2L1196.1 426.2L1193.0 431.7L1196.1 437.2L1189.8 437.2L1186.6 442.7L1183.4 437.2L1177.1 437.2L1180.2 431.7L1177.1 426.2L1183.4 426.2Z" fill="none" stroke="#000099" stroke-width="2.9" stroke-linejoin="miter"/>
<path d="M1216.2 428.5L1219.4 434.0L1225.7 434.0L1222.6 439.5L1225.7 445.0L1219.4 445.0L1216.2 450.5L1213.0 445.0L1206.7 445.0L1209.8 439.5L1206.7 434.0L1213.0 434.0Z" fill="none" stroke="#000099" stroke-width="2.9" stroke-linejoin="miter"/>
<path d="M1245.8 443.0L1249.0 448.5L1255.3 448.5L1252.2 454.0L1255.3 459.5L1249.0 459.5L1245.8 465.0L1242.6 459.5L1236.3 459.5L1239.4 454.0L1236.3 448.5L1242.6 448.5Z" fill="none" stroke="#000099" stroke-width="2.9" stroke-linejoin="miter"/>
<path d="M1275.4 455.5L1278.6 461.0L1284.9 461.0L1281.8 466.5L1284.9 472.0L1278.6 472.0L1275.4 477.5L1272.2 472.0L1265.9 472.0L1269.0 466.5L1265.9 461.0L1272.2 461.0Z" fill="none" stroke="#000099" stroke-width="2.9" stroke-linejoin="miter"/>
<path d="M1305.0 476.3L1308.2 481.8L1314.5 481.8L1311.4 487.3L1314.5 492.8L1308.2 492.8L1305.0 498.3L1301.8 492.8L1295.5 492.8L1298.6 487.3L1295.5 481.8L1301.8 481.8Z" fill="none" stroke="#000099" stroke-width="2.9" stroke-linejoin="miter"/>
<path d="M1334.6 500.7L1337.8 506.2L1344.1 506.2L1341.0 511.7L1344.1 517.2L1337.8 517.2L1334.6 522.7L1331.4 517.2L1325.1 517.2L1328.2 511.7L1325.1 506.2L1331.4 506.2Z" fill="none" stroke="#000099" stroke-width="2.9" stroke-linejoin="miter"/>
<path d="M1364.2 532.5L1367.4 538.0L1373.7 538.0L1370.6 543.5L1373.7 549.0L1367.4 549.0L1364.2 554.5L1361.0 549.0L1354.7 549.0L1357.8 543.5L1354.7 538.0L1361.0 538.0Z" fill="none" stroke="#000099" stroke-width="2.9" stroke-linejoin="miter"/>
<path d="M1393.8 570.4L1397.0 575.9L1403.3 575.9L1400.2 581.4L1403.3 586.9L1397.0 586.9L1393.8 592.4L1390.6 586.9L1384.3 586.9L1387.4 581.4L1384.3 575.9L1390.6 575.9Z" fill="none" stroke="#000099" stroke-width="2.9" stroke-linejoin="miter"/>
<path d="M1423.4 613.8L1426.6 619.3L1432.9 619.3L1429.8 624.8L1432.9 630.3L1426.6 630.3L1423.4 635.8L1420.2 630.3L1413.9 630.3L1417.0 624.8L1413.9 619.3L1420.2 619.3Z" fill="none" stroke="#000099" stroke-width="2.9" stroke-linejoin="miter"/>
<path d="M1453.0 654.8L1456.2 660.3L1462.5 660.3L1459.4 665.8L1462.5 671.3L1456.2 671.3L1453.0 676.8L1449.8 671.3L1443.5 671.3L1446.6 665.8L1443.5 660.3L1449.8 660.3Z" fill="none" stroke="#000099" stroke-width="2.9" stroke-linejoin="miter"/>
<path d="M1482.6 698.0L1485.8 703.5L1492.1 703.5L1489.0 709.0L1492.1 714.5L1485.8 714.5L1482.6 720.0L1479.4 714.5L1473.1 714.5L1476.2 709.0L1473.1 703.5L1479.4 703.5Z" fill="none" stroke="#000099" stroke-width="2.9" stroke-linejoin="miter"/>
<path d="M1512.2 734.7L1515.4 740.2L1521.7 740.2L1518.6 745.7L1521.7 751.2L1515.4 751.2L1512.2 756.7L1509.0 751.2L1502.7 751.2L1505.8 745.7L1502.7 740.2L1509.0 740.2Z" fill="none" stroke="#000099" stroke-width="2.9" stroke-linejoin="miter"/>
<path d="M1541.8 771.1L1545.0 776.6L1551.3 776.6L1548.2 782.1L1551.3 787.6L1545.0 787.6L1541.8 793.1L1538.6 787.6L1532.3 787.6L1535.4 782.1L1532.3 776.6L1538.6 776.6Z" fill="none" stroke="#000099" stroke-width="2.9" stroke-linejoin="miter"/>
<path d="M1571.4 799.4L1574.6 804.9L1580.9 804.9L1577.8 810.4L1580.9 815.9L1574.6 815.9L1571.4 821.4L1568.2 815.9L1561.9 815.9L1565.0 810.4L1561.9 804.9L1568.2 804.9Z" fill="none" stroke="#000099" stroke-width="2.9" stroke-linejoin="miter"/>
<path d="M1601.0 828.0L1604.2 833.5L1610.5 833.5L1607.4 839.0L1610.5 844.5L1604.2 844.5L1601.0 850.0L1597.8 844.5L1591.5 844.5L1594.6 839.0L1591.5 833.5L1597.8 833.5Z" fill="none" stroke="#000099" stroke-width="2.9" stroke-linejoin="miter"/>
<path d="M1630.6 849.2L1633.8 854.7L1640.1 854.7L1637.0 860.2L1640.1 865.7L1633.8 865.7L1630.6 871.2L1627.4 865.7L1621.1 865.7L1624.2 860.2L1621.1 854.7L1627.4 854.7Z" fill="none" stroke="#000099" stroke-width="2.9" stroke-linejoin="miter"/>
<path d="M1660.2 872.1L1663.4 877.6L1669.7 877.6L1666.6 883.1L1669.7 888.6L1663.4 888.6L1660.2 894.1L1657.0 888.6L1650.7 888.6L1653.8 883.1L1650.7 877.6L1657.0 877.6Z" fill="none" stroke="#000099" stroke-width="2.9" stroke-linejoin="miter"/>
<path d="M1689.8 886.8L1693.0 892.3L1699.3 892.3L1696.2 897.8L1699.3 903.3L1693.0 903.3L1689.8 908.8L1686.6 903.3L1680.3 903.3L1683.4 897.8L1680.3 892.3L1686.6 892.3Z" fill="none" stroke="#000099" stroke-width="2.9" stroke-linejoin="miter"/>
<path d="M1719.4 901.4L1722.6 906.9L1728.9 906.9L1725.8 912.4L1728.9 917.9L1722.6 917.9L1719.4 923.4L1716.2 917.9L1709.9 917.9L1713.0 912.4L1709.9 906.9L1716.2 906.9Z" fill="none" stroke="#000099" stroke-width="2.9" stroke-linejoin="miter"/>
<path d="M1749.0 921.0L1752.2 926.5L1758.5 926.5L1755.4 932.0L1758.5 937.5L1752.2 937.5L1749.0 943.0L1745.8 937.5L1739.5 937.5L1742.6 932.0L1739.5 926.5L1745.8 926.5Z" fill="none" stroke="#000099" stroke-width="2.9" stroke-linejoin="miter"/>
<path d="M1778.6 938.4L1781.8 943.9L1788.1 943.9L1785.0 949.4L1788.1 954.9L1781.8 954.9L1778.6 960.4L1775.4 954.9L1769.1 954.9L1772.2 949.4L1769.1 943.9L1775.4 943.9Z" fill="none" stroke="#000099" stroke-width="2.9" stroke-linejoin="miter"/>
<path d="M1808.2 951.2L1811.4 956.7L1817.7 956.7L1814.6 962.2L1817.7 967.7L1811.4 967.7L1808.2 973.2L1805.0 967.7L1798.7 967.7L1801.8 962.2L1798.7 956.7L1805.0 956.7Z" fill="none" stroke="#000099" stroke-width="2.9" stroke-linejoin="miter"/>
<path d="M1837.8 960.4L1841.0 965.9L1847.3 965.9L1844.2 971.4L1847.3 976.9L1841.0 976.9L1837.8 982.4L1834.6 976.9L1828.3 976.9L1831.4 971.4L1828.3 965.9L1834.6 965.9Z" fill="none" stroke="#000099" stroke-width="2.9" stroke-linejoin="miter"/>
<path d="M1867.4 1007.5L1870.6 1013.0L1876.9 1013.0L1873.8 1018.5L1876.9 1024.0L1870.6 1024.0L1867.4 1029.5L1864.2 1024.0L1857.9 1024.0L1861.0 1018.5L1857.9 1013.0L1864.2 1013.0Z" fill="none" stroke="#000099" stroke-width="2.9" stroke-linejoin="miter"/>
<path d="M1897.0 1028.4L1900.2 1033.9L1906.5 1033.9L1903.4 1039.4L1906.5 1044.9L1900.2 1044.9L1897.0 1050.4L1893.8 1044.9L1887.5 1044.9L1890.6 1039.4L1887.5 1033.9L1893.8 1033.9Z" fill="none" stroke="#000099" stroke-width="2.9" stroke-linejoin="miter"/>
<path d="M417.0 72.0V1910.0 M356.0 1849.0H2195.0 M387.0 1084.5H417.0 M387.0 637.4H417.0 M387.0 320.1H417.0 M387.0 74.0H417.0 M506.1 1849.0V1880.0 M558.2 1849.0V1880.0 M595.2 1849.0V1880.0 M623.9 1849.0V1880.0 M647.3 1849.0V1880.0 M667.1 1849.0V1880.0 M684.3 1849.0V1880.0 M699.5 1849.0V1880.0 M802.1 1849.0V1880.0 M854.2 1849.0V1880.0 M891.2 1849.0V1880.0 M919.9 1849.0V1880.0 M943.3 1849.0V1880.0 M963.1 1849.0V1880.0 M980.3 1849.0V1880.0 M995.5 1849.0V1880.0 M1098.1 1849.0V1880.0 M1150.2 1849.0V1880.0 M1187.2 1849.0V1880.0 M1215.9 1849.0V1880.0 M1239.3 1849.0V1880.0 M1259.1 1849.0V1880.0 M1276.3 1849.0V1880.0 M1291.5 1849.0V1880.0 M1394.1 1849.0V1880.0 M1446.2 1849.0V1880.0 M1483.2 1849.0V1880.0 M1511.9 1849.0V1880.0 M1535.3 1849.0V1880.0 M1555.1 1849.0V1880.0 M1572.3 1849.0V1880.0 M1587.5 1849.0V1880.0 M1690.1 1849.0V1880.0 M1742.2 1849.0V1880.0 M1779.2 1849.0V1880.0 M1807.9 1849.0V1880.0 M1831.3 1849.0V1880.0 M1851.1 1849.0V1880.0 M1868.3 1849.0V1880.0 M1883.5 1849.0V1880.0 M1986.1 1849.0V1880.0 M2038.2 1849.0V1880.0 M2075.2 1849.0V1880.0 M2103.9 1849.0V1880.0 M2127.3 1849.0V1880.0 M2147.1 1849.0V1880.0 M2164.3 1849.0V1880.0 M2179.5 1849.0V1880.0 M713.0 1849.0V1910.0 M1009.0 1849.0V1910.0 M1305.0 1849.0V1910.0 M1601.0 1849.0V1910.0 M1897.0 1849.0V1910.0 M2193.0 1849.0V1910.0" stroke="#111" stroke-width="5.5" fill="none" stroke-linecap="butt"/>
<rect x="487.5" y="855.8" width="780" height="441" fill="#fff" stroke="#808080" stroke-width="3"/>
<rect x="585" y="1335.5" width="1087.5" height="494" fill="#fff" stroke="#747474" stroke-width="3"/>
<path d="M627 1427H777" stroke="#7fbf9f" stroke-width="3.5"/>
<path d="M703.5 1407.0L726.6 1447.0L680.4 1447.0Z" fill="none" stroke="#006a35" stroke-width="4.5" stroke-linejoin="miter"/>
<path d="M627 1537H777" stroke="#7fbf9f" stroke-width="3.5"/>
<path d="M675.3 1537.0H731.7M703.5 1508.8V1565.2" stroke="#006633" stroke-width="5" fill="none"/>
<path d="M627 1646H777" stroke="#ffc8a0" stroke-width="3.5"/>
<path d="M703.5 1666.0L726.6 1626.0L680.4 1626.0Z" fill="none" stroke="#ff6600" stroke-width="4.5" stroke-linejoin="miter"/>
<path d="M627 1755.5H777" stroke="#b040dd" stroke-width="3.5"/>
<rect x="676.5" y="1728.5" width="54.1" height="54.1" fill="none" stroke="#9900cc" stroke-width="5.5"/>
<path d="M1161 1427H1311" stroke="#b8ff50" stroke-width="3.5"/>
<path d="M1237.5 1401.2L1245.0 1414.1L1259.9 1414.1L1252.4 1427.0L1259.9 1439.9L1245.0 1439.9L1237.5 1452.8L1230.0 1439.9L1215.1 1439.9L1222.6 1427.0L1215.1 1414.1L1230.0 1414.1Z" fill="none" stroke="#99ff00" stroke-width="3.2" stroke-linejoin="miter"/>
<path d="M1161 1537H1311" stroke="#808080" stroke-width="3.5"/>
<path d="M1237.5 1517.0L1260.6 1557.0L1214.4 1557.0Z" fill="none" stroke="#000000" stroke-width="4.5" stroke-linejoin="miter"/>
<path d="M1161 1646H1311" stroke="#ff90ff" stroke-width="3.5"/>
<path d="M1237.5 1666.0L1260.6 1626.0L1214.4 1626.0Z" fill="none" stroke="#ff00ff" stroke-width="4.5" stroke-linejoin="miter"/>
<path d="M1161 1755.5H1311" stroke="#3a3aa8" stroke-width="3.5"/>
<path d="M1237.5 1729.7L1245.0 1742.6L1259.9 1742.6L1252.4 1755.5L1259.9 1768.4L1245.0 1768.4L1237.5 1781.3L1230.0 1768.4L1215.1 1768.4L1222.6 1755.5L1215.1 1742.6L1230.0 1742.6Z" fill="none" stroke="#000099" stroke-width="3.2" stroke-linejoin="miter"/>
<text transform="translate(151.73 102.70) scale(0.9915 0.9978)" font-size="74" font-family="Liberation Serif, Times New Roman, serif"   stroke="#000" stroke-width="0.6">5x10</text>
<text transform="translate(298.73 65.00) scale(0.9405 0.9898)" font-size="47" font-family="Liberation Serif, Times New Roman, serif"   stroke="#000" stroke-width="0.6">-10</text>
<text transform="translate(149.71 1113.40) scale(1.0101 1.0113)" font-size="74" font-family="Liberation Serif, Times New Roman, serif"   stroke="#000" stroke-width="0.6">2x10</text>
<text transform="translate(299.10 1076.00) scale(0.9340 0.9726)" font-size="47" font-family="Liberation Serif, Times New Roman, serif"   stroke="#000" stroke-width="0.6">-10</text>
<text transform="translate(169.46 1883.40) scale(0.9722 1.0202)" font-size="89" font-family="Liberation Serif, Times New Roman, serif"   stroke="#000" stroke-width="0.6">10</text>
<text transform="translate(255.71 1840.50) scale(1.0176 1.0198)" font-size="53" font-family="Liberation Serif, Times New Roman, serif"   stroke="#000" stroke-width="0.6">-10</text>
<text transform="translate(361.10 2030.00) scale(0.9881 1.0830)" font-size="88" font-family="Liberation Serif, Times New Roman, serif"   stroke="#000" stroke-width="0.6">10</text>
<text transform="translate(447.91 1986.70) scale(0.9300 0.9700)" font-size="55" font-family="Liberation Serif, Times New Roman, serif"   stroke="#000" stroke-width="0.6">1</text>
<text transform="translate(657.10 2030.00) scale(0.9881 1.0830)" font-size="88" font-family="Liberation Serif, Times New Roman, serif"   stroke="#000" stroke-width="0.6">10</text>
<text transform="translate(743.91 1986.70) scale(0.9300 0.9700)" font-size="55" font-family="Liberation Serif, Times New Roman, serif"   stroke="#000" stroke-width="0.6">2</text>
<text transform="translate(953.10 2030.00) scale(0.9881 1.0830)" font-size="88" font-family="Liberation Serif, Times New Roman, serif"   stroke="#000" stroke-width="0.6">10</text>
<text transform="translate(1039.91 1986.70) scale(0.9300 0.9700)" font-size="55" font-family="Liberation Serif, Times New Roman, serif"   stroke="#000" stroke-width="0.6">3</text>
<text transform="translate(1249.10 2030.00) scale(0.9881 1.0830)" font-size="88" font-family="Liberation Serif, Times New Roman, serif"   stroke="#000" stroke-width="0.6">10</text>
<text transform="translate(1335.91 1986.70) scale(0.9300 0.9700)" font-size="55" font-family="Liberation Serif, Times New Roman, serif"   stroke="#000" stroke-width="0.6">4</text>
<text transform="translate(1545.10 2030.00) scale(0.9881 1.0830)" font-size="88" font-family="Liberation Serif, Times New Roman, serif"   stroke="#000" stroke-width="0.6">10</text>
<text transform="translate(1631.91 1986.70) scale(0.9300 0.9700)" font-size="55" font-family="Liberation Serif, Times New Roman, serif"   stroke="#000" stroke-width="0.6">5</text>
<text transform="translate(1841.10 2030.00) scale(0.9881 1.0830)" font-size="88" font-family="Liberation Serif, Times New Roman, serif"   stroke="#000" stroke-width="0.6">10</text>
<text transform="translate(1927.91 1986.70) scale(0.9300 0.9700)" font-size="55" font-family="Liberation Serif, Times New Roman, serif"   stroke="#000" stroke-width="0.6">6</text>
<text transform="translate(2137.10 2030.00) scale(0.9881 1.0830)" font-size="88" font-family="Liberation Serif, Times New Roman, serif"   stroke="#000" stroke-width="0.6">10</text>
<text transform="translate(2223.91 1986.70) scale(0.9300 0.9700)" font-size="55" font-family="Liberation Serif, Times New Roman, serif"   stroke="#000" stroke-width="0.6">7</text>
<text transform="translate(1198.70 2131.70) scale(1.2377 0.9653)" font-size="93" font-family="Liberation Serif, Times New Roman, serif" font-style="italic"  stroke="#000" stroke-width="0.6">f</text>
<text transform="translate(1234.28 2131.00) scale(0.9732 1.0330)" font-size="93" font-family="Liberation Serif, Times New Roman, serif"   stroke="#000" stroke-width="0.6">, Hz</text>
<text transform="translate(657.35 934.60) scale(0.9663 0.9578)" font-size="94" font-family="Liberation Serif, Times New Roman, serif" font-weight="bold" >Zn-SiO</text>
<text transform="translate(944.80 957.60) scale(1.0086 1.0237)" font-size="52" font-family="Liberation Serif, Times New Roman, serif" font-weight="bold" >2</text>
<text transform="translate(972.26 934.60) scale(0.9486 0.9821)" font-size="94" font-family="Liberation Serif, Times New Roman, serif" font-weight="bold" >/Si</text>
<text transform="translate(519.01 1029.30) scale(0.9941 0.9356)" font-size="67" font-family="Liberation Serif, Times New Roman, serif" font-weight="bold" >Ion dose:</text>
<text transform="translate(793.34 1029.30) scale(0.9258 0.9795)" font-size="67" font-family="Liberation Serif, Times New Roman, serif"   stroke="#000" stroke-width="0.6">7.5 × 10<tspan font-size="42" dy="-17">16</tspan><tspan dy="17"> ion/cm</tspan><tspan font-size="42" dy="-17">2</tspan></text>
<text transform="translate(586.55 1102.00) scale(0.9790 0.9362)" font-size="67" font-family="Liberation Serif, Times New Roman, serif"   stroke="#000" stroke-width="0.6"><tspan font-weight="bold">Ion energy:</tspan> 150 keV</text>
<text transform="translate(718.90 1181.80) scale(1.0000 1.0000)" font-size="78" font-family="Liberation Serif, Times New Roman, serif" font-style="italic"  stroke="#000" stroke-width="0.6">T</text>
<text transform="translate(760.01 1197.00) scale(0.9585 0.8343)" font-size="40" font-family="Liberation Serif, Times New Roman, serif"   stroke="#000" stroke-width="0.6">impl</text>
<text transform="translate(829.10 1181.80) scale(1.0439 1.0000)" font-size="65" font-family="Liberation Serif, Times New Roman, serif"   stroke="#000" stroke-width="0.6">=773 K</text>
<text transform="translate(575.22 1272.40) scale(1.0053 0.9877)" font-size="65" font-family="Liberation Serif, Times New Roman, serif"   stroke="#000" stroke-width="0.6"><tspan font-style="italic">T</tspan><tspan font-size="42" dy="13">a</tspan><tspan dy="-13">=973 K, </tspan><tspan font-style="italic">t</tspan>=60 min, air</text>
<text transform="translate(819.49 1446.00) scale(0.9562 1.0016)" font-size="77" font-family="Liberation Serif, Times New Roman, serif"   stroke="#000" stroke-width="0.6"><tspan font-style="italic">T</tspan><tspan font-size="50" dy="17">p</tspan><tspan dy="-17">=73 K</tspan></text>
<text transform="translate(819.52 1555.50) scale(0.9523 1.0053)" font-size="77" font-family="Liberation Serif, Times New Roman, serif"   stroke="#000" stroke-width="0.6"><tspan font-style="italic">T</tspan><tspan font-size="50" dy="17">p</tspan><tspan dy="-17">=97 K</tspan></text>
<text transform="translate(819.48 1665.00) scale(0.9553 1.0004)" font-size="77" font-family="Liberation Serif, Times New Roman, serif"   stroke="#000" stroke-width="0.6"><tspan font-style="italic">T</tspan><tspan font-size="50" dy="17">p</tspan><tspan dy="-17">=121 K</tspan></text>
<text transform="translate(819.48 1774.50) scale(0.9553 1.0250)" font-size="77" font-family="Liberation Serif, Times New Roman, serif"   stroke="#000" stroke-width="0.6"><tspan font-style="italic">T</tspan><tspan font-size="50" dy="17">p</tspan><tspan dy="-17">=145 K</tspan></text>
<text transform="translate(1353.28 1446.00) scale(0.9553 1.0016)" font-size="77" font-family="Liberation Serif, Times New Roman, serif"   stroke="#000" stroke-width="0.6"><tspan font-style="italic">T</tspan><tspan font-size="50" dy="17">p</tspan><tspan dy="-17">=193 K</tspan></text>
<text transform="translate(1353.28 1555.50) scale(0.9553 1.0057)" font-size="77" font-family="Liberation Serif, Times New Roman, serif"   stroke="#000" stroke-width="0.6"><tspan font-style="italic">T</tspan><tspan font-size="50" dy="17">p</tspan><tspan dy="-17">=249 K</tspan></text>
<text transform="translate(1353.28 1665.00) scale(0.9553 1.0004)" font-size="77" font-family="Liberation Serif, Times New Roman, serif"   stroke="#000" stroke-width="0.6"><tspan font-style="italic">T</tspan><tspan font-size="50" dy="17">p</tspan><tspan dy="-17">=291 K</tspan></text>
<text transform="translate(1353.28 1774.50) scale(0.9553 1.0048)" font-size="77" font-family="Liberation Serif, Times New Roman, serif"   stroke="#000" stroke-width="0.6"><tspan font-style="italic">T</tspan><tspan font-size="50" dy="17">p</tspan><tspan dy="-17">=333 K</tspan></text>
<text transform="translate(100.80 1056.58) rotate(-90) scale(1.0999 1.0573)" font-size="90" font-family="Liberation Serif, Times New Roman, serif" font-style="italic"  stroke="#000" stroke-width="0.6">C</text>
<text transform="translate(125.68 992.42) rotate(-90) scale(1.0303 0.9869)" font-size="52" font-family="Liberation Serif, Times New Roman, serif" font-style="italic"  stroke="#000" stroke-width="0.6">p</text>
<text transform="translate(100.50 963.46) rotate(-90) scale(0.9892 1.0187)" font-size="90" font-family="Liberation Serif, Times New Roman, serif"   stroke="#000" stroke-width="0.6">, F</text>
</svg>
</body></html>
